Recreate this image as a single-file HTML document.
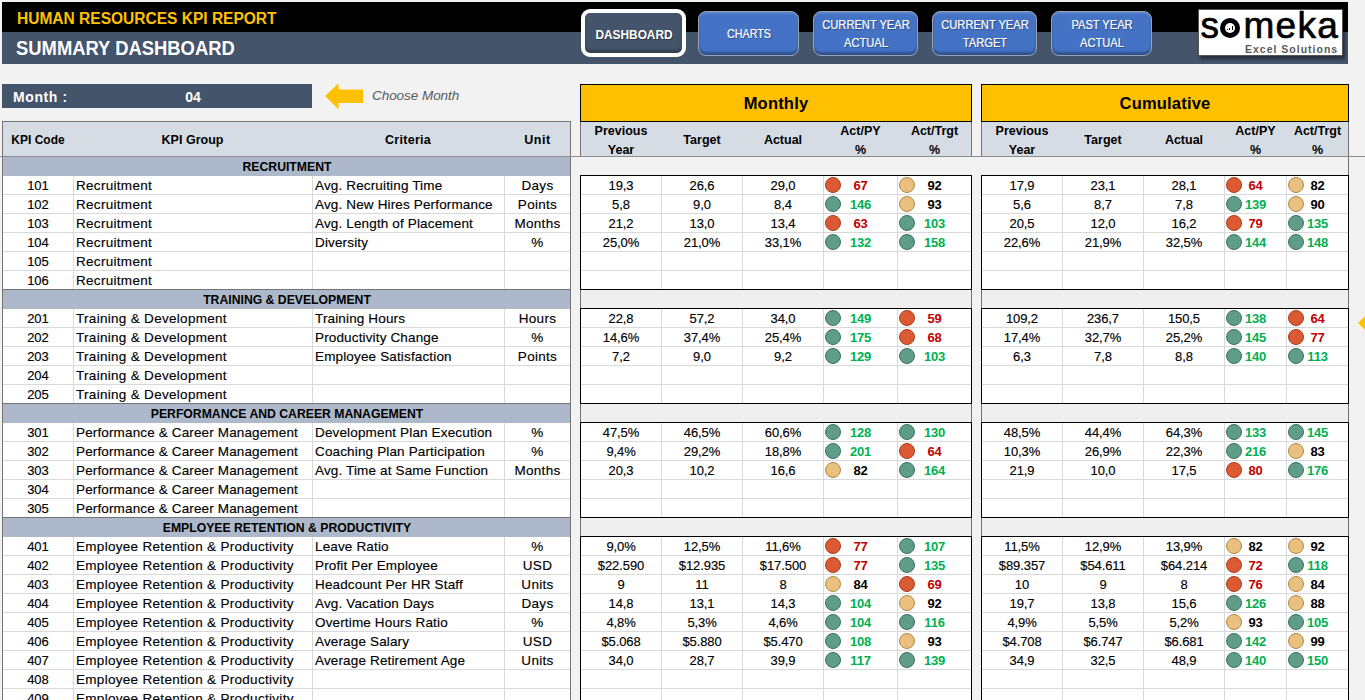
<!DOCTYPE html>
<html><head><meta charset="utf-8"><title>HR KPI Dashboard</title>
<style>
html,body{margin:0;padding:0;}
body{width:1365px;height:700px;overflow:hidden;background:#F2F2F2;position:relative;font-family:"Liberation Sans", sans-serif;}
body>div,body>svg{position:absolute;box-sizing:content-box;}
.t{white-space:nowrap;}
.b{-webkit-text-stroke:0.15px currentColor;}
</style></head><body>
<div style="left:2px;top:2px;width:1346px;height:30px;background:#000;"></div>
<div style="left:2px;top:32px;width:1346px;height:32px;background:#44546A;"></div>
<div class="t " style="left:17px;top:11px;font-size:16px;line-height:16px;font-weight:700;font-style:normal;color:#FFC000;transform-origin:left;transform:scaleX(0.97);">HUMAN RESOURCES KPI REPORT</div>
<div class="t " style="left:16px;top:38px;font-size:20px;line-height:20px;font-weight:700;font-style:normal;color:#fff;transform-origin:left;transform:scaleX(0.92);">SUMMARY DASHBOARD</div>
<div style="left:581px;top:9px;width:97px;height:40px;border:4px solid #fff;border-radius:9px;background:#44546A;box-shadow:inset 0 -3px 3px rgba(0,0,0,0.25)"></div>
<div class="t " style="left:433.5px;top:29px;width:400px;text-align:center;font-size:12.5px;line-height:12.5px;font-weight:700;font-style:normal;color:#fff;transform:scaleX(0.95);text-shadow:1px 1px 1px rgba(0,0,0,0.35)">DASHBOARD</div>
<div style="left:698px;top:11px;width:99px;height:43px;border:1px solid #9AA3B5;border-radius:8px;background:#4472C4;box-shadow:inset 0 -3px 2px rgba(0,0,0,0.28), inset 0 2px 1px rgba(255,255,255,0.12)"></div>
<div class="t " style="left:548.5px;top:28px;width:400px;text-align:center;font-size:12.5px;line-height:12.5px;font-weight:400;font-style:normal;color:#fff;transform:scaleX(0.86);text-shadow:1px 1px 1px rgba(0,0,0,0.35);-webkit-text-stroke:0.2px #fff">CHARTS</div>
<div style="left:813px;top:11px;width:103px;height:43px;border:1px solid #9AA3B5;border-radius:8px;background:#4472C4;box-shadow:inset 0 -3px 2px rgba(0,0,0,0.28), inset 0 2px 1px rgba(255,255,255,0.12)"></div>
<div class="t " style="left:665.5px;top:19px;width:400px;text-align:center;font-size:12.5px;line-height:12.5px;font-weight:400;font-style:normal;color:#fff;transform:scaleX(0.89);text-shadow:1px 1px 1px rgba(0,0,0,0.35);-webkit-text-stroke:0.2px #fff">CURRENT YEAR</div>
<div class="t " style="left:665.5px;top:37px;width:400px;text-align:center;font-size:12.5px;line-height:12.5px;font-weight:400;font-style:normal;color:#fff;transform:scaleX(0.89);text-shadow:1px 1px 1px rgba(0,0,0,0.35);-webkit-text-stroke:0.2px #fff">ACTUAL</div>
<div style="left:932px;top:11px;width:103px;height:43px;border:1px solid #9AA3B5;border-radius:8px;background:#4472C4;box-shadow:inset 0 -3px 2px rgba(0,0,0,0.28), inset 0 2px 1px rgba(255,255,255,0.12)"></div>
<div class="t " style="left:784.5px;top:19px;width:400px;text-align:center;font-size:12.5px;line-height:12.5px;font-weight:400;font-style:normal;color:#fff;transform:scaleX(0.89);text-shadow:1px 1px 1px rgba(0,0,0,0.35);-webkit-text-stroke:0.2px #fff">CURRENT YEAR</div>
<div class="t " style="left:784.5px;top:37px;width:400px;text-align:center;font-size:12.5px;line-height:12.5px;font-weight:400;font-style:normal;color:#fff;transform:scaleX(0.89);text-shadow:1px 1px 1px rgba(0,0,0,0.35);-webkit-text-stroke:0.2px #fff">TARGET</div>
<div style="left:1051px;top:11px;width:99px;height:43px;border:1px solid #9AA3B5;border-radius:8px;background:#4472C4;box-shadow:inset 0 -3px 2px rgba(0,0,0,0.28), inset 0 2px 1px rgba(255,255,255,0.12)"></div>
<div class="t " style="left:901.5px;top:19px;width:400px;text-align:center;font-size:12.5px;line-height:12.5px;font-weight:400;font-style:normal;color:#fff;transform:scaleX(0.89);text-shadow:1px 1px 1px rgba(0,0,0,0.35);-webkit-text-stroke:0.2px #fff">PAST YEAR</div>
<div class="t " style="left:901.5px;top:37px;width:400px;text-align:center;font-size:12.5px;line-height:12.5px;font-weight:400;font-style:normal;color:#fff;transform:scaleX(0.89);text-shadow:1px 1px 1px rgba(0,0,0,0.35);-webkit-text-stroke:0.2px #fff">ACTUAL</div>
<div style="left:1198px;top:9px;width:143px;height:45px;background:#fff;border:1px solid #555;box-shadow:2px 3px 3px rgba(0,0,0,0.45)"></div>
<div class="t " style="left:1200.5px;top:7px;font-size:37px;line-height:37px;font-weight:400;font-style:normal;color:#000;transform-origin:left;-webkit-text-stroke:0.7px #000">s</div>
<div class="t " style="left:1243.5px;top:7px;font-size:37px;line-height:37px;font-weight:400;font-style:normal;color:#000;transform-origin:left;letter-spacing:1.3px;-webkit-text-stroke:0.7px #000">meka</div>
<div style="left:1220px;top:18.3px;width:19.8px;height:19.8px;border-radius:50%;background:#000"></div>
<div style="left:1225px;top:23.2px;width:10.2px;height:10.2px;border-radius:50%;background:#fff"></div>
<div style="left:1227px;top:28.8px;width:1.1px;height:1.6px;background:#000"></div>
<div style="left:1229.2px;top:27.8px;width:1.3px;height:2.6px;background:#000"></div>
<div style="left:1231.7px;top:26px;width:1.4px;height:4.4px;background:#000"></div>
<div class="t " style="left:1245px;top:44px;font-size:10.5px;line-height:10.5px;font-weight:700;font-style:normal;color:#595959;transform-origin:left;letter-spacing:1.0px;">Excel Solutions</div>
<div style="left:2px;top:84px;width:310px;height:24px;background:#44546A;"></div>
<div class="t " style="left:13px;top:90px;font-size:14px;line-height:14px;font-weight:700;font-style:normal;color:#fff;transform-origin:left;letter-spacing:0.6px;">Month :</div>
<div class="t " style="left:-7.0px;top:90px;width:400px;text-align:center;font-size:14px;line-height:14px;font-weight:700;font-style:normal;color:#fff;">04</div>
<svg style="left:325px;top:83px" width="40" height="28" viewBox="0 0 40 28"><path d="M0 13 L13.6 0.3 L13.6 6.4 L38 6.4 L38 20 L13.6 20 L13.6 26.5 Z" fill="#FFC000"/></svg>
<div class="t " style="left:372px;top:88.5px;font-size:13.5px;line-height:13.5px;font-weight:400;font-style:italic;color:#595959;transform-origin:left;letter-spacing:-0.05px;">Choose Month</div>
<div style="left:2px;top:121px;width:569px;height:35px;background:#D6DCE4;"></div>
<div class="t " style="left:-162.5px;top:134px;width:400px;text-align:center;font-size:12.5px;line-height:12.5px;font-weight:700;font-style:normal;color:#000;transform:scaleX(0.96);">KPI Code</div>
<div class="t " style="left:-7.5px;top:134px;width:400px;text-align:center;font-size:12.5px;line-height:12.5px;font-weight:700;font-style:normal;color:#000;">KPI Group</div>
<div class="t " style="left:208.0px;top:134px;width:400px;text-align:center;font-size:12.5px;line-height:12.5px;font-weight:700;font-style:normal;color:#000;letter-spacing:0.3px;">Criteria</div>
<div class="t " style="left:337.5px;top:134px;width:400px;text-align:center;font-size:12.5px;line-height:12.5px;font-weight:700;font-style:normal;color:#000;letter-spacing:0.6px;">Unit</div>
<div style="left:2px;top:157px;width:569px;height:19px;background:#ADB9CA;"></div>
<div class="t " style="left:86.5px;top:160px;width:400px;text-align:center;font-size:13px;line-height:13px;font-weight:700;font-style:normal;color:#000;transform:scaleX(0.94);">RECRUITMENT</div>
<div style="left:1348px;top:157px;width:1px;height:18px;background:#737373;"></div>
<div style="left:2px;top:176px;width:569px;height:18px;background:#fff;"></div>
<div class="t b" style="left:-162.0px;top:179px;width:400px;text-align:center;font-size:13px;line-height:13px;font-weight:400;font-style:normal;color:#000;">101</div>
<div class="t b" style="left:76px;top:179px;font-size:13.5px;line-height:13.5px;font-weight:400;font-style:normal;color:#000;transform-origin:left;letter-spacing:0.3px;">Recruitment</div>
<div class="t b" style="left:315px;top:179px;font-size:13.5px;line-height:13.5px;font-weight:400;font-style:normal;color:#000;transform-origin:left;letter-spacing:0.15px;">Avg. Recruiting Time</div>
<div class="t b" style="left:337.5px;top:179px;width:400px;text-align:center;font-size:13.5px;line-height:13.5px;font-weight:400;font-style:normal;color:#000;letter-spacing:0.3px;">Days</div>
<div style="left:580px;top:176px;width:391px;height:18px;background:#fff;"></div>
<div class="t b" style="left:421.0px;top:179px;width:400px;text-align:center;font-size:13px;line-height:13px;font-weight:400;font-style:normal;color:#000;letter-spacing:-0.1px;">19,3</div>
<div class="t b" style="left:502.0px;top:179px;width:400px;text-align:center;font-size:13px;line-height:13px;font-weight:400;font-style:normal;color:#000;letter-spacing:-0.1px;">26,6</div>
<div class="t b" style="left:583.0px;top:179px;width:400px;text-align:center;font-size:13px;line-height:13px;font-weight:400;font-style:normal;color:#000;letter-spacing:-0.1px;">29,0</div>
<div style="left:825px;top:177px;width:14px;height:14px;border-radius:50%;background:#DC5A33;border:1px solid #A83C1A"></div>
<div class="t " style="left:660.5px;top:179px;width:400px;text-align:center;font-size:13px;line-height:13px;font-weight:700;font-style:normal;color:#C00000;letter-spacing:-0.2px;">67</div>
<div style="left:899px;top:177px;width:14px;height:14px;border-radius:50%;background:#E9C07E;border:1px solid #B08A48"></div>
<div class="t " style="left:734.5px;top:179px;width:400px;text-align:center;font-size:13px;line-height:13px;font-weight:700;font-style:normal;color:#000;letter-spacing:-0.2px;">92</div>
<div style="left:981px;top:176px;width:367px;height:18px;background:#fff;"></div>
<div class="t b" style="left:822.0px;top:179px;width:400px;text-align:center;font-size:13px;line-height:13px;font-weight:400;font-style:normal;color:#000;letter-spacing:-0.1px;">17,9</div>
<div class="t b" style="left:903.0px;top:179px;width:400px;text-align:center;font-size:13px;line-height:13px;font-weight:400;font-style:normal;color:#000;letter-spacing:-0.1px;">23,1</div>
<div class="t b" style="left:984.0px;top:179px;width:400px;text-align:center;font-size:13px;line-height:13px;font-weight:400;font-style:normal;color:#000;letter-spacing:-0.1px;">28,1</div>
<div style="left:1226px;top:177px;width:14px;height:14px;border-radius:50%;background:#DC5A33;border:1px solid #A83C1A"></div>
<div class="t " style="left:1055.5px;top:179px;width:400px;text-align:center;font-size:13px;line-height:13px;font-weight:700;font-style:normal;color:#C00000;letter-spacing:-0.2px;">64</div>
<div style="left:1288px;top:177px;width:14px;height:14px;border-radius:50%;background:#E9C07E;border:1px solid #B08A48"></div>
<div class="t " style="left:1117.5px;top:179px;width:400px;text-align:center;font-size:13px;line-height:13px;font-weight:700;font-style:normal;color:#000;letter-spacing:-0.2px;">82</div>
<div style="left:2px;top:195px;width:569px;height:18px;background:#fff;"></div>
<div class="t b" style="left:-162.0px;top:198px;width:400px;text-align:center;font-size:13px;line-height:13px;font-weight:400;font-style:normal;color:#000;">102</div>
<div class="t b" style="left:76px;top:198px;font-size:13.5px;line-height:13.5px;font-weight:400;font-style:normal;color:#000;transform-origin:left;letter-spacing:0.3px;">Recruitment</div>
<div class="t b" style="left:315px;top:198px;font-size:13.5px;line-height:13.5px;font-weight:400;font-style:normal;color:#000;transform-origin:left;letter-spacing:0.15px;">Avg. New Hires Performance</div>
<div class="t b" style="left:337.5px;top:198px;width:400px;text-align:center;font-size:13.5px;line-height:13.5px;font-weight:400;font-style:normal;color:#000;letter-spacing:0.3px;">Points</div>
<div style="left:580px;top:195px;width:391px;height:18px;background:#fff;"></div>
<div class="t b" style="left:421.0px;top:198px;width:400px;text-align:center;font-size:13px;line-height:13px;font-weight:400;font-style:normal;color:#000;letter-spacing:-0.1px;">5,8</div>
<div class="t b" style="left:502.0px;top:198px;width:400px;text-align:center;font-size:13px;line-height:13px;font-weight:400;font-style:normal;color:#000;letter-spacing:-0.1px;">9,0</div>
<div class="t b" style="left:583.0px;top:198px;width:400px;text-align:center;font-size:13px;line-height:13px;font-weight:400;font-style:normal;color:#000;letter-spacing:-0.1px;">8,4</div>
<div style="left:825px;top:196px;width:14px;height:14px;border-radius:50%;background:#5F9D88;border:1px solid #3A715F"></div>
<div class="t " style="left:660.5px;top:198px;width:400px;text-align:center;font-size:13px;line-height:13px;font-weight:700;font-style:normal;color:#00B050;letter-spacing:-0.2px;">146</div>
<div style="left:899px;top:196px;width:14px;height:14px;border-radius:50%;background:#E9C07E;border:1px solid #B08A48"></div>
<div class="t " style="left:734.5px;top:198px;width:400px;text-align:center;font-size:13px;line-height:13px;font-weight:700;font-style:normal;color:#000;letter-spacing:-0.2px;">93</div>
<div style="left:981px;top:195px;width:367px;height:18px;background:#fff;"></div>
<div class="t b" style="left:822.0px;top:198px;width:400px;text-align:center;font-size:13px;line-height:13px;font-weight:400;font-style:normal;color:#000;letter-spacing:-0.1px;">5,6</div>
<div class="t b" style="left:903.0px;top:198px;width:400px;text-align:center;font-size:13px;line-height:13px;font-weight:400;font-style:normal;color:#000;letter-spacing:-0.1px;">8,7</div>
<div class="t b" style="left:984.0px;top:198px;width:400px;text-align:center;font-size:13px;line-height:13px;font-weight:400;font-style:normal;color:#000;letter-spacing:-0.1px;">7,8</div>
<div style="left:1226px;top:196px;width:14px;height:14px;border-radius:50%;background:#5F9D88;border:1px solid #3A715F"></div>
<div class="t " style="left:1055.5px;top:198px;width:400px;text-align:center;font-size:13px;line-height:13px;font-weight:700;font-style:normal;color:#00B050;letter-spacing:-0.2px;">139</div>
<div style="left:1288px;top:196px;width:14px;height:14px;border-radius:50%;background:#E9C07E;border:1px solid #B08A48"></div>
<div class="t " style="left:1117.5px;top:198px;width:400px;text-align:center;font-size:13px;line-height:13px;font-weight:700;font-style:normal;color:#000;letter-spacing:-0.2px;">90</div>
<div style="left:2px;top:214px;width:569px;height:18px;background:#fff;"></div>
<div class="t b" style="left:-162.0px;top:217px;width:400px;text-align:center;font-size:13px;line-height:13px;font-weight:400;font-style:normal;color:#000;">103</div>
<div class="t b" style="left:76px;top:217px;font-size:13.5px;line-height:13.5px;font-weight:400;font-style:normal;color:#000;transform-origin:left;letter-spacing:0.3px;">Recruitment</div>
<div class="t b" style="left:315px;top:217px;font-size:13.5px;line-height:13.5px;font-weight:400;font-style:normal;color:#000;transform-origin:left;letter-spacing:0.15px;">Avg. Length of Placement</div>
<div class="t b" style="left:337.5px;top:217px;width:400px;text-align:center;font-size:13.5px;line-height:13.5px;font-weight:400;font-style:normal;color:#000;letter-spacing:0.3px;">Months</div>
<div style="left:580px;top:214px;width:391px;height:18px;background:#fff;"></div>
<div class="t b" style="left:421.0px;top:217px;width:400px;text-align:center;font-size:13px;line-height:13px;font-weight:400;font-style:normal;color:#000;letter-spacing:-0.1px;">21,2</div>
<div class="t b" style="left:502.0px;top:217px;width:400px;text-align:center;font-size:13px;line-height:13px;font-weight:400;font-style:normal;color:#000;letter-spacing:-0.1px;">13,0</div>
<div class="t b" style="left:583.0px;top:217px;width:400px;text-align:center;font-size:13px;line-height:13px;font-weight:400;font-style:normal;color:#000;letter-spacing:-0.1px;">13,4</div>
<div style="left:825px;top:215px;width:14px;height:14px;border-radius:50%;background:#DC5A33;border:1px solid #A83C1A"></div>
<div class="t " style="left:660.5px;top:217px;width:400px;text-align:center;font-size:13px;line-height:13px;font-weight:700;font-style:normal;color:#C00000;letter-spacing:-0.2px;">63</div>
<div style="left:899px;top:215px;width:14px;height:14px;border-radius:50%;background:#5F9D88;border:1px solid #3A715F"></div>
<div class="t " style="left:734.5px;top:217px;width:400px;text-align:center;font-size:13px;line-height:13px;font-weight:700;font-style:normal;color:#00B050;letter-spacing:-0.2px;">103</div>
<div style="left:981px;top:214px;width:367px;height:18px;background:#fff;"></div>
<div class="t b" style="left:822.0px;top:217px;width:400px;text-align:center;font-size:13px;line-height:13px;font-weight:400;font-style:normal;color:#000;letter-spacing:-0.1px;">20,5</div>
<div class="t b" style="left:903.0px;top:217px;width:400px;text-align:center;font-size:13px;line-height:13px;font-weight:400;font-style:normal;color:#000;letter-spacing:-0.1px;">12,0</div>
<div class="t b" style="left:984.0px;top:217px;width:400px;text-align:center;font-size:13px;line-height:13px;font-weight:400;font-style:normal;color:#000;letter-spacing:-0.1px;">16,2</div>
<div style="left:1226px;top:215px;width:14px;height:14px;border-radius:50%;background:#DC5A33;border:1px solid #A83C1A"></div>
<div class="t " style="left:1055.5px;top:217px;width:400px;text-align:center;font-size:13px;line-height:13px;font-weight:700;font-style:normal;color:#C00000;letter-spacing:-0.2px;">79</div>
<div style="left:1288px;top:215px;width:14px;height:14px;border-radius:50%;background:#5F9D88;border:1px solid #3A715F"></div>
<div class="t " style="left:1117.5px;top:217px;width:400px;text-align:center;font-size:13px;line-height:13px;font-weight:700;font-style:normal;color:#00B050;letter-spacing:-0.2px;">135</div>
<div style="left:2px;top:233px;width:569px;height:18px;background:#fff;"></div>
<div class="t b" style="left:-162.0px;top:236px;width:400px;text-align:center;font-size:13px;line-height:13px;font-weight:400;font-style:normal;color:#000;">104</div>
<div class="t b" style="left:76px;top:236px;font-size:13.5px;line-height:13.5px;font-weight:400;font-style:normal;color:#000;transform-origin:left;letter-spacing:0.3px;">Recruitment</div>
<div class="t b" style="left:315px;top:236px;font-size:13.5px;line-height:13.5px;font-weight:400;font-style:normal;color:#000;transform-origin:left;letter-spacing:0.15px;">Diversity</div>
<div class="t b" style="left:337.5px;top:236px;width:400px;text-align:center;font-size:13.5px;line-height:13.5px;font-weight:400;font-style:normal;color:#000;letter-spacing:0.3px;">%</div>
<div style="left:580px;top:233px;width:391px;height:18px;background:#fff;"></div>
<div class="t b" style="left:421.0px;top:236px;width:400px;text-align:center;font-size:13px;line-height:13px;font-weight:400;font-style:normal;color:#000;letter-spacing:-0.1px;">25,0%</div>
<div class="t b" style="left:502.0px;top:236px;width:400px;text-align:center;font-size:13px;line-height:13px;font-weight:400;font-style:normal;color:#000;letter-spacing:-0.1px;">21,0%</div>
<div class="t b" style="left:583.0px;top:236px;width:400px;text-align:center;font-size:13px;line-height:13px;font-weight:400;font-style:normal;color:#000;letter-spacing:-0.1px;">33,1%</div>
<div style="left:825px;top:234px;width:14px;height:14px;border-radius:50%;background:#5F9D88;border:1px solid #3A715F"></div>
<div class="t " style="left:660.5px;top:236px;width:400px;text-align:center;font-size:13px;line-height:13px;font-weight:700;font-style:normal;color:#00B050;letter-spacing:-0.2px;">132</div>
<div style="left:899px;top:234px;width:14px;height:14px;border-radius:50%;background:#5F9D88;border:1px solid #3A715F"></div>
<div class="t " style="left:734.5px;top:236px;width:400px;text-align:center;font-size:13px;line-height:13px;font-weight:700;font-style:normal;color:#00B050;letter-spacing:-0.2px;">158</div>
<div style="left:981px;top:233px;width:367px;height:18px;background:#fff;"></div>
<div class="t b" style="left:822.0px;top:236px;width:400px;text-align:center;font-size:13px;line-height:13px;font-weight:400;font-style:normal;color:#000;letter-spacing:-0.1px;">22,6%</div>
<div class="t b" style="left:903.0px;top:236px;width:400px;text-align:center;font-size:13px;line-height:13px;font-weight:400;font-style:normal;color:#000;letter-spacing:-0.1px;">21,9%</div>
<div class="t b" style="left:984.0px;top:236px;width:400px;text-align:center;font-size:13px;line-height:13px;font-weight:400;font-style:normal;color:#000;letter-spacing:-0.1px;">32,5%</div>
<div style="left:1226px;top:234px;width:14px;height:14px;border-radius:50%;background:#5F9D88;border:1px solid #3A715F"></div>
<div class="t " style="left:1055.5px;top:236px;width:400px;text-align:center;font-size:13px;line-height:13px;font-weight:700;font-style:normal;color:#00B050;letter-spacing:-0.2px;">144</div>
<div style="left:1288px;top:234px;width:14px;height:14px;border-radius:50%;background:#5F9D88;border:1px solid #3A715F"></div>
<div class="t " style="left:1117.5px;top:236px;width:400px;text-align:center;font-size:13px;line-height:13px;font-weight:700;font-style:normal;color:#00B050;letter-spacing:-0.2px;">148</div>
<div style="left:2px;top:252px;width:569px;height:18px;background:#fff;"></div>
<div class="t b" style="left:-162.0px;top:255px;width:400px;text-align:center;font-size:13px;line-height:13px;font-weight:400;font-style:normal;color:#000;">105</div>
<div class="t b" style="left:76px;top:255px;font-size:13.5px;line-height:13.5px;font-weight:400;font-style:normal;color:#000;transform-origin:left;letter-spacing:0.3px;">Recruitment</div>
<div style="left:580px;top:252px;width:391px;height:18px;background:#fff;"></div>
<div style="left:981px;top:252px;width:367px;height:18px;background:#fff;"></div>
<div style="left:2px;top:271px;width:569px;height:18px;background:#fff;"></div>
<div class="t b" style="left:-162.0px;top:274px;width:400px;text-align:center;font-size:13px;line-height:13px;font-weight:400;font-style:normal;color:#000;">106</div>
<div class="t b" style="left:76px;top:274px;font-size:13.5px;line-height:13.5px;font-weight:400;font-style:normal;color:#000;transform-origin:left;letter-spacing:0.3px;">Recruitment</div>
<div style="left:580px;top:271px;width:391px;height:18px;background:#fff;"></div>
<div style="left:981px;top:271px;width:367px;height:18px;background:#fff;"></div>
<div style="left:2px;top:290px;width:569px;height:19px;background:#ADB9CA;"></div>
<div style="left:2px;top:289px;width:569px;height:1px;background:#737373;"></div>
<div class="t " style="left:86.5px;top:293px;width:400px;text-align:center;font-size:13px;line-height:13px;font-weight:700;font-style:normal;color:#000;transform:scaleX(0.94);">TRAINING &amp; DEVELOPMENT</div>
<div style="left:580px;top:290px;width:392px;height:18px;background:#EFEFEF;"></div>
<div style="left:981px;top:290px;width:368px;height:18px;background:#EFEFEF;"></div>
<div style="left:2px;top:309px;width:569px;height:18px;background:#fff;"></div>
<div class="t b" style="left:-162.0px;top:312px;width:400px;text-align:center;font-size:13px;line-height:13px;font-weight:400;font-style:normal;color:#000;">201</div>
<div class="t b" style="left:76px;top:312px;font-size:13.5px;line-height:13.5px;font-weight:400;font-style:normal;color:#000;transform-origin:left;letter-spacing:0.3px;">Training &amp; Development</div>
<div class="t b" style="left:315px;top:312px;font-size:13.5px;line-height:13.5px;font-weight:400;font-style:normal;color:#000;transform-origin:left;letter-spacing:0.15px;">Training Hours</div>
<div class="t b" style="left:337.5px;top:312px;width:400px;text-align:center;font-size:13.5px;line-height:13.5px;font-weight:400;font-style:normal;color:#000;letter-spacing:0.3px;">Hours</div>
<div style="left:580px;top:309px;width:391px;height:18px;background:#fff;"></div>
<div class="t b" style="left:421.0px;top:312px;width:400px;text-align:center;font-size:13px;line-height:13px;font-weight:400;font-style:normal;color:#000;letter-spacing:-0.1px;">22,8</div>
<div class="t b" style="left:502.0px;top:312px;width:400px;text-align:center;font-size:13px;line-height:13px;font-weight:400;font-style:normal;color:#000;letter-spacing:-0.1px;">57,2</div>
<div class="t b" style="left:583.0px;top:312px;width:400px;text-align:center;font-size:13px;line-height:13px;font-weight:400;font-style:normal;color:#000;letter-spacing:-0.1px;">34,0</div>
<div style="left:825px;top:310px;width:14px;height:14px;border-radius:50%;background:#5F9D88;border:1px solid #3A715F"></div>
<div class="t " style="left:660.5px;top:312px;width:400px;text-align:center;font-size:13px;line-height:13px;font-weight:700;font-style:normal;color:#00B050;letter-spacing:-0.2px;">149</div>
<div style="left:899px;top:310px;width:14px;height:14px;border-radius:50%;background:#DC5A33;border:1px solid #A83C1A"></div>
<div class="t " style="left:734.5px;top:312px;width:400px;text-align:center;font-size:13px;line-height:13px;font-weight:700;font-style:normal;color:#C00000;letter-spacing:-0.2px;">59</div>
<div style="left:981px;top:309px;width:367px;height:18px;background:#fff;"></div>
<div class="t b" style="left:822.0px;top:312px;width:400px;text-align:center;font-size:13px;line-height:13px;font-weight:400;font-style:normal;color:#000;letter-spacing:-0.1px;">109,2</div>
<div class="t b" style="left:903.0px;top:312px;width:400px;text-align:center;font-size:13px;line-height:13px;font-weight:400;font-style:normal;color:#000;letter-spacing:-0.1px;">236,7</div>
<div class="t b" style="left:984.0px;top:312px;width:400px;text-align:center;font-size:13px;line-height:13px;font-weight:400;font-style:normal;color:#000;letter-spacing:-0.1px;">150,5</div>
<div style="left:1226px;top:310px;width:14px;height:14px;border-radius:50%;background:#5F9D88;border:1px solid #3A715F"></div>
<div class="t " style="left:1055.5px;top:312px;width:400px;text-align:center;font-size:13px;line-height:13px;font-weight:700;font-style:normal;color:#00B050;letter-spacing:-0.2px;">138</div>
<div style="left:1288px;top:310px;width:14px;height:14px;border-radius:50%;background:#DC5A33;border:1px solid #A83C1A"></div>
<div class="t " style="left:1117.5px;top:312px;width:400px;text-align:center;font-size:13px;line-height:13px;font-weight:700;font-style:normal;color:#C00000;letter-spacing:-0.2px;">64</div>
<div style="left:2px;top:328px;width:569px;height:18px;background:#fff;"></div>
<div class="t b" style="left:-162.0px;top:331px;width:400px;text-align:center;font-size:13px;line-height:13px;font-weight:400;font-style:normal;color:#000;">202</div>
<div class="t b" style="left:76px;top:331px;font-size:13.5px;line-height:13.5px;font-weight:400;font-style:normal;color:#000;transform-origin:left;letter-spacing:0.3px;">Training &amp; Development</div>
<div class="t b" style="left:315px;top:331px;font-size:13.5px;line-height:13.5px;font-weight:400;font-style:normal;color:#000;transform-origin:left;letter-spacing:0.15px;">Productivity Change</div>
<div class="t b" style="left:337.5px;top:331px;width:400px;text-align:center;font-size:13.5px;line-height:13.5px;font-weight:400;font-style:normal;color:#000;letter-spacing:0.3px;">%</div>
<div style="left:580px;top:328px;width:391px;height:18px;background:#fff;"></div>
<div class="t b" style="left:421.0px;top:331px;width:400px;text-align:center;font-size:13px;line-height:13px;font-weight:400;font-style:normal;color:#000;letter-spacing:-0.1px;">14,6%</div>
<div class="t b" style="left:502.0px;top:331px;width:400px;text-align:center;font-size:13px;line-height:13px;font-weight:400;font-style:normal;color:#000;letter-spacing:-0.1px;">37,4%</div>
<div class="t b" style="left:583.0px;top:331px;width:400px;text-align:center;font-size:13px;line-height:13px;font-weight:400;font-style:normal;color:#000;letter-spacing:-0.1px;">25,4%</div>
<div style="left:825px;top:329px;width:14px;height:14px;border-radius:50%;background:#5F9D88;border:1px solid #3A715F"></div>
<div class="t " style="left:660.5px;top:331px;width:400px;text-align:center;font-size:13px;line-height:13px;font-weight:700;font-style:normal;color:#00B050;letter-spacing:-0.2px;">175</div>
<div style="left:899px;top:329px;width:14px;height:14px;border-radius:50%;background:#DC5A33;border:1px solid #A83C1A"></div>
<div class="t " style="left:734.5px;top:331px;width:400px;text-align:center;font-size:13px;line-height:13px;font-weight:700;font-style:normal;color:#C00000;letter-spacing:-0.2px;">68</div>
<div style="left:981px;top:328px;width:367px;height:18px;background:#fff;"></div>
<div class="t b" style="left:822.0px;top:331px;width:400px;text-align:center;font-size:13px;line-height:13px;font-weight:400;font-style:normal;color:#000;letter-spacing:-0.1px;">17,4%</div>
<div class="t b" style="left:903.0px;top:331px;width:400px;text-align:center;font-size:13px;line-height:13px;font-weight:400;font-style:normal;color:#000;letter-spacing:-0.1px;">32,7%</div>
<div class="t b" style="left:984.0px;top:331px;width:400px;text-align:center;font-size:13px;line-height:13px;font-weight:400;font-style:normal;color:#000;letter-spacing:-0.1px;">25,2%</div>
<div style="left:1226px;top:329px;width:14px;height:14px;border-radius:50%;background:#5F9D88;border:1px solid #3A715F"></div>
<div class="t " style="left:1055.5px;top:331px;width:400px;text-align:center;font-size:13px;line-height:13px;font-weight:700;font-style:normal;color:#00B050;letter-spacing:-0.2px;">145</div>
<div style="left:1288px;top:329px;width:14px;height:14px;border-radius:50%;background:#DC5A33;border:1px solid #A83C1A"></div>
<div class="t " style="left:1117.5px;top:331px;width:400px;text-align:center;font-size:13px;line-height:13px;font-weight:700;font-style:normal;color:#C00000;letter-spacing:-0.2px;">77</div>
<div style="left:2px;top:347px;width:569px;height:18px;background:#fff;"></div>
<div class="t b" style="left:-162.0px;top:350px;width:400px;text-align:center;font-size:13px;line-height:13px;font-weight:400;font-style:normal;color:#000;">203</div>
<div class="t b" style="left:76px;top:350px;font-size:13.5px;line-height:13.5px;font-weight:400;font-style:normal;color:#000;transform-origin:left;letter-spacing:0.3px;">Training &amp; Development</div>
<div class="t b" style="left:315px;top:350px;font-size:13.5px;line-height:13.5px;font-weight:400;font-style:normal;color:#000;transform-origin:left;letter-spacing:0.15px;">Employee Satisfaction</div>
<div class="t b" style="left:337.5px;top:350px;width:400px;text-align:center;font-size:13.5px;line-height:13.5px;font-weight:400;font-style:normal;color:#000;letter-spacing:0.3px;">Points</div>
<div style="left:580px;top:347px;width:391px;height:18px;background:#fff;"></div>
<div class="t b" style="left:421.0px;top:350px;width:400px;text-align:center;font-size:13px;line-height:13px;font-weight:400;font-style:normal;color:#000;letter-spacing:-0.1px;">7,2</div>
<div class="t b" style="left:502.0px;top:350px;width:400px;text-align:center;font-size:13px;line-height:13px;font-weight:400;font-style:normal;color:#000;letter-spacing:-0.1px;">9,0</div>
<div class="t b" style="left:583.0px;top:350px;width:400px;text-align:center;font-size:13px;line-height:13px;font-weight:400;font-style:normal;color:#000;letter-spacing:-0.1px;">9,2</div>
<div style="left:825px;top:348px;width:14px;height:14px;border-radius:50%;background:#5F9D88;border:1px solid #3A715F"></div>
<div class="t " style="left:660.5px;top:350px;width:400px;text-align:center;font-size:13px;line-height:13px;font-weight:700;font-style:normal;color:#00B050;letter-spacing:-0.2px;">129</div>
<div style="left:899px;top:348px;width:14px;height:14px;border-radius:50%;background:#5F9D88;border:1px solid #3A715F"></div>
<div class="t " style="left:734.5px;top:350px;width:400px;text-align:center;font-size:13px;line-height:13px;font-weight:700;font-style:normal;color:#00B050;letter-spacing:-0.2px;">103</div>
<div style="left:981px;top:347px;width:367px;height:18px;background:#fff;"></div>
<div class="t b" style="left:822.0px;top:350px;width:400px;text-align:center;font-size:13px;line-height:13px;font-weight:400;font-style:normal;color:#000;letter-spacing:-0.1px;">6,3</div>
<div class="t b" style="left:903.0px;top:350px;width:400px;text-align:center;font-size:13px;line-height:13px;font-weight:400;font-style:normal;color:#000;letter-spacing:-0.1px;">7,8</div>
<div class="t b" style="left:984.0px;top:350px;width:400px;text-align:center;font-size:13px;line-height:13px;font-weight:400;font-style:normal;color:#000;letter-spacing:-0.1px;">8,8</div>
<div style="left:1226px;top:348px;width:14px;height:14px;border-radius:50%;background:#5F9D88;border:1px solid #3A715F"></div>
<div class="t " style="left:1055.5px;top:350px;width:400px;text-align:center;font-size:13px;line-height:13px;font-weight:700;font-style:normal;color:#00B050;letter-spacing:-0.2px;">140</div>
<div style="left:1288px;top:348px;width:14px;height:14px;border-radius:50%;background:#5F9D88;border:1px solid #3A715F"></div>
<div class="t " style="left:1117.5px;top:350px;width:400px;text-align:center;font-size:13px;line-height:13px;font-weight:700;font-style:normal;color:#00B050;letter-spacing:-0.2px;">113</div>
<div style="left:2px;top:366px;width:569px;height:18px;background:#fff;"></div>
<div class="t b" style="left:-162.0px;top:369px;width:400px;text-align:center;font-size:13px;line-height:13px;font-weight:400;font-style:normal;color:#000;">204</div>
<div class="t b" style="left:76px;top:369px;font-size:13.5px;line-height:13.5px;font-weight:400;font-style:normal;color:#000;transform-origin:left;letter-spacing:0.3px;">Training &amp; Development</div>
<div style="left:580px;top:366px;width:391px;height:18px;background:#fff;"></div>
<div style="left:981px;top:366px;width:367px;height:18px;background:#fff;"></div>
<div style="left:2px;top:385px;width:569px;height:18px;background:#fff;"></div>
<div class="t b" style="left:-162.0px;top:388px;width:400px;text-align:center;font-size:13px;line-height:13px;font-weight:400;font-style:normal;color:#000;">205</div>
<div class="t b" style="left:76px;top:388px;font-size:13.5px;line-height:13.5px;font-weight:400;font-style:normal;color:#000;transform-origin:left;letter-spacing:0.3px;">Training &amp; Development</div>
<div style="left:580px;top:385px;width:391px;height:18px;background:#fff;"></div>
<div style="left:981px;top:385px;width:367px;height:18px;background:#fff;"></div>
<div style="left:2px;top:404px;width:569px;height:19px;background:#ADB9CA;"></div>
<div style="left:2px;top:403px;width:569px;height:1px;background:#737373;"></div>
<div class="t " style="left:86.5px;top:407px;width:400px;text-align:center;font-size:13px;line-height:13px;font-weight:700;font-style:normal;color:#000;transform:scaleX(0.94);">PERFORMANCE AND CAREER MANAGEMENT</div>
<div style="left:580px;top:404px;width:392px;height:18px;background:#EFEFEF;"></div>
<div style="left:981px;top:404px;width:368px;height:18px;background:#EFEFEF;"></div>
<div style="left:2px;top:423px;width:569px;height:18px;background:#fff;"></div>
<div class="t b" style="left:-162.0px;top:426px;width:400px;text-align:center;font-size:13px;line-height:13px;font-weight:400;font-style:normal;color:#000;">301</div>
<div class="t b" style="left:76px;top:426px;font-size:13.5px;line-height:13.5px;font-weight:400;font-style:normal;color:#000;transform-origin:left;letter-spacing:0.14px;">Performance &amp; Career Management</div>
<div class="t b" style="left:315px;top:426px;font-size:13.5px;line-height:13.5px;font-weight:400;font-style:normal;color:#000;transform-origin:left;letter-spacing:0.15px;">Development Plan Execution</div>
<div class="t b" style="left:337.5px;top:426px;width:400px;text-align:center;font-size:13.5px;line-height:13.5px;font-weight:400;font-style:normal;color:#000;letter-spacing:0.3px;">%</div>
<div style="left:580px;top:423px;width:391px;height:18px;background:#fff;"></div>
<div class="t b" style="left:421.0px;top:426px;width:400px;text-align:center;font-size:13px;line-height:13px;font-weight:400;font-style:normal;color:#000;letter-spacing:-0.1px;">47,5%</div>
<div class="t b" style="left:502.0px;top:426px;width:400px;text-align:center;font-size:13px;line-height:13px;font-weight:400;font-style:normal;color:#000;letter-spacing:-0.1px;">46,5%</div>
<div class="t b" style="left:583.0px;top:426px;width:400px;text-align:center;font-size:13px;line-height:13px;font-weight:400;font-style:normal;color:#000;letter-spacing:-0.1px;">60,6%</div>
<div style="left:825px;top:424px;width:14px;height:14px;border-radius:50%;background:#5F9D88;border:1px solid #3A715F"></div>
<div class="t " style="left:660.5px;top:426px;width:400px;text-align:center;font-size:13px;line-height:13px;font-weight:700;font-style:normal;color:#00B050;letter-spacing:-0.2px;">128</div>
<div style="left:899px;top:424px;width:14px;height:14px;border-radius:50%;background:#5F9D88;border:1px solid #3A715F"></div>
<div class="t " style="left:734.5px;top:426px;width:400px;text-align:center;font-size:13px;line-height:13px;font-weight:700;font-style:normal;color:#00B050;letter-spacing:-0.2px;">130</div>
<div style="left:981px;top:423px;width:367px;height:18px;background:#fff;"></div>
<div class="t b" style="left:822.0px;top:426px;width:400px;text-align:center;font-size:13px;line-height:13px;font-weight:400;font-style:normal;color:#000;letter-spacing:-0.1px;">48,5%</div>
<div class="t b" style="left:903.0px;top:426px;width:400px;text-align:center;font-size:13px;line-height:13px;font-weight:400;font-style:normal;color:#000;letter-spacing:-0.1px;">44,4%</div>
<div class="t b" style="left:984.0px;top:426px;width:400px;text-align:center;font-size:13px;line-height:13px;font-weight:400;font-style:normal;color:#000;letter-spacing:-0.1px;">64,3%</div>
<div style="left:1226px;top:424px;width:14px;height:14px;border-radius:50%;background:#5F9D88;border:1px solid #3A715F"></div>
<div class="t " style="left:1055.5px;top:426px;width:400px;text-align:center;font-size:13px;line-height:13px;font-weight:700;font-style:normal;color:#00B050;letter-spacing:-0.2px;">133</div>
<div style="left:1288px;top:424px;width:14px;height:14px;border-radius:50%;background:#5F9D88;border:1px solid #3A715F"></div>
<div class="t " style="left:1117.5px;top:426px;width:400px;text-align:center;font-size:13px;line-height:13px;font-weight:700;font-style:normal;color:#00B050;letter-spacing:-0.2px;">145</div>
<div style="left:2px;top:442px;width:569px;height:18px;background:#fff;"></div>
<div class="t b" style="left:-162.0px;top:445px;width:400px;text-align:center;font-size:13px;line-height:13px;font-weight:400;font-style:normal;color:#000;">302</div>
<div class="t b" style="left:76px;top:445px;font-size:13.5px;line-height:13.5px;font-weight:400;font-style:normal;color:#000;transform-origin:left;letter-spacing:0.14px;">Performance &amp; Career Management</div>
<div class="t b" style="left:315px;top:445px;font-size:13.5px;line-height:13.5px;font-weight:400;font-style:normal;color:#000;transform-origin:left;letter-spacing:0.15px;">Coaching Plan Participation</div>
<div class="t b" style="left:337.5px;top:445px;width:400px;text-align:center;font-size:13.5px;line-height:13.5px;font-weight:400;font-style:normal;color:#000;letter-spacing:0.3px;">%</div>
<div style="left:580px;top:442px;width:391px;height:18px;background:#fff;"></div>
<div class="t b" style="left:421.0px;top:445px;width:400px;text-align:center;font-size:13px;line-height:13px;font-weight:400;font-style:normal;color:#000;letter-spacing:-0.1px;">9,4%</div>
<div class="t b" style="left:502.0px;top:445px;width:400px;text-align:center;font-size:13px;line-height:13px;font-weight:400;font-style:normal;color:#000;letter-spacing:-0.1px;">29,2%</div>
<div class="t b" style="left:583.0px;top:445px;width:400px;text-align:center;font-size:13px;line-height:13px;font-weight:400;font-style:normal;color:#000;letter-spacing:-0.1px;">18,8%</div>
<div style="left:825px;top:443px;width:14px;height:14px;border-radius:50%;background:#5F9D88;border:1px solid #3A715F"></div>
<div class="t " style="left:660.5px;top:445px;width:400px;text-align:center;font-size:13px;line-height:13px;font-weight:700;font-style:normal;color:#00B050;letter-spacing:-0.2px;">201</div>
<div style="left:899px;top:443px;width:14px;height:14px;border-radius:50%;background:#DC5A33;border:1px solid #A83C1A"></div>
<div class="t " style="left:734.5px;top:445px;width:400px;text-align:center;font-size:13px;line-height:13px;font-weight:700;font-style:normal;color:#C00000;letter-spacing:-0.2px;">64</div>
<div style="left:981px;top:442px;width:367px;height:18px;background:#fff;"></div>
<div class="t b" style="left:822.0px;top:445px;width:400px;text-align:center;font-size:13px;line-height:13px;font-weight:400;font-style:normal;color:#000;letter-spacing:-0.1px;">10,3%</div>
<div class="t b" style="left:903.0px;top:445px;width:400px;text-align:center;font-size:13px;line-height:13px;font-weight:400;font-style:normal;color:#000;letter-spacing:-0.1px;">26,9%</div>
<div class="t b" style="left:984.0px;top:445px;width:400px;text-align:center;font-size:13px;line-height:13px;font-weight:400;font-style:normal;color:#000;letter-spacing:-0.1px;">22,3%</div>
<div style="left:1226px;top:443px;width:14px;height:14px;border-radius:50%;background:#5F9D88;border:1px solid #3A715F"></div>
<div class="t " style="left:1055.5px;top:445px;width:400px;text-align:center;font-size:13px;line-height:13px;font-weight:700;font-style:normal;color:#00B050;letter-spacing:-0.2px;">216</div>
<div style="left:1288px;top:443px;width:14px;height:14px;border-radius:50%;background:#E9C07E;border:1px solid #B08A48"></div>
<div class="t " style="left:1117.5px;top:445px;width:400px;text-align:center;font-size:13px;line-height:13px;font-weight:700;font-style:normal;color:#000;letter-spacing:-0.2px;">83</div>
<div style="left:2px;top:461px;width:569px;height:18px;background:#fff;"></div>
<div class="t b" style="left:-162.0px;top:464px;width:400px;text-align:center;font-size:13px;line-height:13px;font-weight:400;font-style:normal;color:#000;">303</div>
<div class="t b" style="left:76px;top:464px;font-size:13.5px;line-height:13.5px;font-weight:400;font-style:normal;color:#000;transform-origin:left;letter-spacing:0.14px;">Performance &amp; Career Management</div>
<div class="t b" style="left:315px;top:464px;font-size:13.5px;line-height:13.5px;font-weight:400;font-style:normal;color:#000;transform-origin:left;letter-spacing:0.15px;">Avg. Time at Same Function</div>
<div class="t b" style="left:337.5px;top:464px;width:400px;text-align:center;font-size:13.5px;line-height:13.5px;font-weight:400;font-style:normal;color:#000;letter-spacing:0.3px;">Months</div>
<div style="left:580px;top:461px;width:391px;height:18px;background:#fff;"></div>
<div class="t b" style="left:421.0px;top:464px;width:400px;text-align:center;font-size:13px;line-height:13px;font-weight:400;font-style:normal;color:#000;letter-spacing:-0.1px;">20,3</div>
<div class="t b" style="left:502.0px;top:464px;width:400px;text-align:center;font-size:13px;line-height:13px;font-weight:400;font-style:normal;color:#000;letter-spacing:-0.1px;">10,2</div>
<div class="t b" style="left:583.0px;top:464px;width:400px;text-align:center;font-size:13px;line-height:13px;font-weight:400;font-style:normal;color:#000;letter-spacing:-0.1px;">16,6</div>
<div style="left:825px;top:462px;width:14px;height:14px;border-radius:50%;background:#E9C07E;border:1px solid #B08A48"></div>
<div class="t " style="left:660.5px;top:464px;width:400px;text-align:center;font-size:13px;line-height:13px;font-weight:700;font-style:normal;color:#000;letter-spacing:-0.2px;">82</div>
<div style="left:899px;top:462px;width:14px;height:14px;border-radius:50%;background:#5F9D88;border:1px solid #3A715F"></div>
<div class="t " style="left:734.5px;top:464px;width:400px;text-align:center;font-size:13px;line-height:13px;font-weight:700;font-style:normal;color:#00B050;letter-spacing:-0.2px;">164</div>
<div style="left:981px;top:461px;width:367px;height:18px;background:#fff;"></div>
<div class="t b" style="left:822.0px;top:464px;width:400px;text-align:center;font-size:13px;line-height:13px;font-weight:400;font-style:normal;color:#000;letter-spacing:-0.1px;">21,9</div>
<div class="t b" style="left:903.0px;top:464px;width:400px;text-align:center;font-size:13px;line-height:13px;font-weight:400;font-style:normal;color:#000;letter-spacing:-0.1px;">10,0</div>
<div class="t b" style="left:984.0px;top:464px;width:400px;text-align:center;font-size:13px;line-height:13px;font-weight:400;font-style:normal;color:#000;letter-spacing:-0.1px;">17,5</div>
<div style="left:1226px;top:462px;width:14px;height:14px;border-radius:50%;background:#DC5A33;border:1px solid #A83C1A"></div>
<div class="t " style="left:1055.5px;top:464px;width:400px;text-align:center;font-size:13px;line-height:13px;font-weight:700;font-style:normal;color:#C00000;letter-spacing:-0.2px;">80</div>
<div style="left:1288px;top:462px;width:14px;height:14px;border-radius:50%;background:#5F9D88;border:1px solid #3A715F"></div>
<div class="t " style="left:1117.5px;top:464px;width:400px;text-align:center;font-size:13px;line-height:13px;font-weight:700;font-style:normal;color:#00B050;letter-spacing:-0.2px;">176</div>
<div style="left:2px;top:480px;width:569px;height:18px;background:#fff;"></div>
<div class="t b" style="left:-162.0px;top:483px;width:400px;text-align:center;font-size:13px;line-height:13px;font-weight:400;font-style:normal;color:#000;">304</div>
<div class="t b" style="left:76px;top:483px;font-size:13.5px;line-height:13.5px;font-weight:400;font-style:normal;color:#000;transform-origin:left;letter-spacing:0.14px;">Performance &amp; Career Management</div>
<div style="left:580px;top:480px;width:391px;height:18px;background:#fff;"></div>
<div style="left:981px;top:480px;width:367px;height:18px;background:#fff;"></div>
<div style="left:2px;top:499px;width:569px;height:18px;background:#fff;"></div>
<div class="t b" style="left:-162.0px;top:502px;width:400px;text-align:center;font-size:13px;line-height:13px;font-weight:400;font-style:normal;color:#000;">305</div>
<div class="t b" style="left:76px;top:502px;font-size:13.5px;line-height:13.5px;font-weight:400;font-style:normal;color:#000;transform-origin:left;letter-spacing:0.14px;">Performance &amp; Career Management</div>
<div style="left:580px;top:499px;width:391px;height:18px;background:#fff;"></div>
<div style="left:981px;top:499px;width:367px;height:18px;background:#fff;"></div>
<div style="left:2px;top:518px;width:569px;height:19px;background:#ADB9CA;"></div>
<div style="left:2px;top:517px;width:569px;height:1px;background:#737373;"></div>
<div class="t " style="left:86.5px;top:521px;width:400px;text-align:center;font-size:13px;line-height:13px;font-weight:700;font-style:normal;color:#000;transform:scaleX(0.94);">EMPLOYEE RETENTION &amp; PRODUCTIVITY</div>
<div style="left:580px;top:518px;width:392px;height:18px;background:#EFEFEF;"></div>
<div style="left:981px;top:518px;width:368px;height:18px;background:#EFEFEF;"></div>
<div style="left:2px;top:537px;width:569px;height:18px;background:#fff;"></div>
<div class="t b" style="left:-162.0px;top:540px;width:400px;text-align:center;font-size:13px;line-height:13px;font-weight:400;font-style:normal;color:#000;">401</div>
<div class="t b" style="left:76px;top:540px;font-size:13.5px;line-height:13.5px;font-weight:400;font-style:normal;color:#000;transform-origin:left;letter-spacing:0.3px;">Employee Retention &amp; Productivity</div>
<div class="t b" style="left:315px;top:540px;font-size:13.5px;line-height:13.5px;font-weight:400;font-style:normal;color:#000;transform-origin:left;letter-spacing:0.15px;">Leave Ratio</div>
<div class="t b" style="left:337.5px;top:540px;width:400px;text-align:center;font-size:13.5px;line-height:13.5px;font-weight:400;font-style:normal;color:#000;letter-spacing:0.3px;">%</div>
<div style="left:580px;top:537px;width:391px;height:18px;background:#fff;"></div>
<div class="t b" style="left:421.0px;top:540px;width:400px;text-align:center;font-size:13px;line-height:13px;font-weight:400;font-style:normal;color:#000;letter-spacing:-0.1px;">9,0%</div>
<div class="t b" style="left:502.0px;top:540px;width:400px;text-align:center;font-size:13px;line-height:13px;font-weight:400;font-style:normal;color:#000;letter-spacing:-0.1px;">12,5%</div>
<div class="t b" style="left:583.0px;top:540px;width:400px;text-align:center;font-size:13px;line-height:13px;font-weight:400;font-style:normal;color:#000;letter-spacing:-0.1px;">11,6%</div>
<div style="left:825px;top:538px;width:14px;height:14px;border-radius:50%;background:#DC5A33;border:1px solid #A83C1A"></div>
<div class="t " style="left:660.5px;top:540px;width:400px;text-align:center;font-size:13px;line-height:13px;font-weight:700;font-style:normal;color:#C00000;letter-spacing:-0.2px;">77</div>
<div style="left:899px;top:538px;width:14px;height:14px;border-radius:50%;background:#5F9D88;border:1px solid #3A715F"></div>
<div class="t " style="left:734.5px;top:540px;width:400px;text-align:center;font-size:13px;line-height:13px;font-weight:700;font-style:normal;color:#00B050;letter-spacing:-0.2px;">107</div>
<div style="left:981px;top:537px;width:367px;height:18px;background:#fff;"></div>
<div class="t b" style="left:822.0px;top:540px;width:400px;text-align:center;font-size:13px;line-height:13px;font-weight:400;font-style:normal;color:#000;letter-spacing:-0.1px;">11,5%</div>
<div class="t b" style="left:903.0px;top:540px;width:400px;text-align:center;font-size:13px;line-height:13px;font-weight:400;font-style:normal;color:#000;letter-spacing:-0.1px;">12,9%</div>
<div class="t b" style="left:984.0px;top:540px;width:400px;text-align:center;font-size:13px;line-height:13px;font-weight:400;font-style:normal;color:#000;letter-spacing:-0.1px;">13,9%</div>
<div style="left:1226px;top:538px;width:14px;height:14px;border-radius:50%;background:#E9C07E;border:1px solid #B08A48"></div>
<div class="t " style="left:1055.5px;top:540px;width:400px;text-align:center;font-size:13px;line-height:13px;font-weight:700;font-style:normal;color:#000;letter-spacing:-0.2px;">82</div>
<div style="left:1288px;top:538px;width:14px;height:14px;border-radius:50%;background:#E9C07E;border:1px solid #B08A48"></div>
<div class="t " style="left:1117.5px;top:540px;width:400px;text-align:center;font-size:13px;line-height:13px;font-weight:700;font-style:normal;color:#000;letter-spacing:-0.2px;">92</div>
<div style="left:2px;top:556px;width:569px;height:18px;background:#fff;"></div>
<div class="t b" style="left:-162.0px;top:559px;width:400px;text-align:center;font-size:13px;line-height:13px;font-weight:400;font-style:normal;color:#000;">402</div>
<div class="t b" style="left:76px;top:559px;font-size:13.5px;line-height:13.5px;font-weight:400;font-style:normal;color:#000;transform-origin:left;letter-spacing:0.3px;">Employee Retention &amp; Productivity</div>
<div class="t b" style="left:315px;top:559px;font-size:13.5px;line-height:13.5px;font-weight:400;font-style:normal;color:#000;transform-origin:left;letter-spacing:0.15px;">Profit Per Employee</div>
<div class="t b" style="left:337.5px;top:559px;width:400px;text-align:center;font-size:13.5px;line-height:13.5px;font-weight:400;font-style:normal;color:#000;letter-spacing:0.3px;">USD</div>
<div style="left:580px;top:556px;width:391px;height:18px;background:#fff;"></div>
<div class="t b" style="left:421.0px;top:559px;width:400px;text-align:center;font-size:13px;line-height:13px;font-weight:400;font-style:normal;color:#000;letter-spacing:-0.1px;">$22.590</div>
<div class="t b" style="left:502.0px;top:559px;width:400px;text-align:center;font-size:13px;line-height:13px;font-weight:400;font-style:normal;color:#000;letter-spacing:-0.1px;">$12.935</div>
<div class="t b" style="left:583.0px;top:559px;width:400px;text-align:center;font-size:13px;line-height:13px;font-weight:400;font-style:normal;color:#000;letter-spacing:-0.1px;">$17.500</div>
<div style="left:825px;top:557px;width:14px;height:14px;border-radius:50%;background:#DC5A33;border:1px solid #A83C1A"></div>
<div class="t " style="left:660.5px;top:559px;width:400px;text-align:center;font-size:13px;line-height:13px;font-weight:700;font-style:normal;color:#C00000;letter-spacing:-0.2px;">77</div>
<div style="left:899px;top:557px;width:14px;height:14px;border-radius:50%;background:#5F9D88;border:1px solid #3A715F"></div>
<div class="t " style="left:734.5px;top:559px;width:400px;text-align:center;font-size:13px;line-height:13px;font-weight:700;font-style:normal;color:#00B050;letter-spacing:-0.2px;">135</div>
<div style="left:981px;top:556px;width:367px;height:18px;background:#fff;"></div>
<div class="t b" style="left:822.0px;top:559px;width:400px;text-align:center;font-size:13px;line-height:13px;font-weight:400;font-style:normal;color:#000;letter-spacing:-0.1px;">$89.357</div>
<div class="t b" style="left:903.0px;top:559px;width:400px;text-align:center;font-size:13px;line-height:13px;font-weight:400;font-style:normal;color:#000;letter-spacing:-0.1px;">$54.611</div>
<div class="t b" style="left:984.0px;top:559px;width:400px;text-align:center;font-size:13px;line-height:13px;font-weight:400;font-style:normal;color:#000;letter-spacing:-0.1px;">$64.214</div>
<div style="left:1226px;top:557px;width:14px;height:14px;border-radius:50%;background:#DC5A33;border:1px solid #A83C1A"></div>
<div class="t " style="left:1055.5px;top:559px;width:400px;text-align:center;font-size:13px;line-height:13px;font-weight:700;font-style:normal;color:#C00000;letter-spacing:-0.2px;">72</div>
<div style="left:1288px;top:557px;width:14px;height:14px;border-radius:50%;background:#5F9D88;border:1px solid #3A715F"></div>
<div class="t " style="left:1117.5px;top:559px;width:400px;text-align:center;font-size:13px;line-height:13px;font-weight:700;font-style:normal;color:#00B050;letter-spacing:-0.2px;">118</div>
<div style="left:2px;top:575px;width:569px;height:18px;background:#fff;"></div>
<div class="t b" style="left:-162.0px;top:578px;width:400px;text-align:center;font-size:13px;line-height:13px;font-weight:400;font-style:normal;color:#000;">403</div>
<div class="t b" style="left:76px;top:578px;font-size:13.5px;line-height:13.5px;font-weight:400;font-style:normal;color:#000;transform-origin:left;letter-spacing:0.3px;">Employee Retention &amp; Productivity</div>
<div class="t b" style="left:315px;top:578px;font-size:13.5px;line-height:13.5px;font-weight:400;font-style:normal;color:#000;transform-origin:left;letter-spacing:0.15px;">Headcount Per HR Staff</div>
<div class="t b" style="left:337.5px;top:578px;width:400px;text-align:center;font-size:13.5px;line-height:13.5px;font-weight:400;font-style:normal;color:#000;letter-spacing:0.3px;">Units</div>
<div style="left:580px;top:575px;width:391px;height:18px;background:#fff;"></div>
<div class="t b" style="left:421.0px;top:578px;width:400px;text-align:center;font-size:13px;line-height:13px;font-weight:400;font-style:normal;color:#000;letter-spacing:-0.1px;">9</div>
<div class="t b" style="left:502.0px;top:578px;width:400px;text-align:center;font-size:13px;line-height:13px;font-weight:400;font-style:normal;color:#000;letter-spacing:-0.1px;">11</div>
<div class="t b" style="left:583.0px;top:578px;width:400px;text-align:center;font-size:13px;line-height:13px;font-weight:400;font-style:normal;color:#000;letter-spacing:-0.1px;">8</div>
<div style="left:825px;top:576px;width:14px;height:14px;border-radius:50%;background:#E9C07E;border:1px solid #B08A48"></div>
<div class="t " style="left:660.5px;top:578px;width:400px;text-align:center;font-size:13px;line-height:13px;font-weight:700;font-style:normal;color:#000;letter-spacing:-0.2px;">84</div>
<div style="left:899px;top:576px;width:14px;height:14px;border-radius:50%;background:#DC5A33;border:1px solid #A83C1A"></div>
<div class="t " style="left:734.5px;top:578px;width:400px;text-align:center;font-size:13px;line-height:13px;font-weight:700;font-style:normal;color:#C00000;letter-spacing:-0.2px;">69</div>
<div style="left:981px;top:575px;width:367px;height:18px;background:#fff;"></div>
<div class="t b" style="left:822.0px;top:578px;width:400px;text-align:center;font-size:13px;line-height:13px;font-weight:400;font-style:normal;color:#000;letter-spacing:-0.1px;">10</div>
<div class="t b" style="left:903.0px;top:578px;width:400px;text-align:center;font-size:13px;line-height:13px;font-weight:400;font-style:normal;color:#000;letter-spacing:-0.1px;">9</div>
<div class="t b" style="left:984.0px;top:578px;width:400px;text-align:center;font-size:13px;line-height:13px;font-weight:400;font-style:normal;color:#000;letter-spacing:-0.1px;">8</div>
<div style="left:1226px;top:576px;width:14px;height:14px;border-radius:50%;background:#DC5A33;border:1px solid #A83C1A"></div>
<div class="t " style="left:1055.5px;top:578px;width:400px;text-align:center;font-size:13px;line-height:13px;font-weight:700;font-style:normal;color:#C00000;letter-spacing:-0.2px;">76</div>
<div style="left:1288px;top:576px;width:14px;height:14px;border-radius:50%;background:#E9C07E;border:1px solid #B08A48"></div>
<div class="t " style="left:1117.5px;top:578px;width:400px;text-align:center;font-size:13px;line-height:13px;font-weight:700;font-style:normal;color:#000;letter-spacing:-0.2px;">84</div>
<div style="left:2px;top:594px;width:569px;height:18px;background:#fff;"></div>
<div class="t b" style="left:-162.0px;top:597px;width:400px;text-align:center;font-size:13px;line-height:13px;font-weight:400;font-style:normal;color:#000;">404</div>
<div class="t b" style="left:76px;top:597px;font-size:13.5px;line-height:13.5px;font-weight:400;font-style:normal;color:#000;transform-origin:left;letter-spacing:0.3px;">Employee Retention &amp; Productivity</div>
<div class="t b" style="left:315px;top:597px;font-size:13.5px;line-height:13.5px;font-weight:400;font-style:normal;color:#000;transform-origin:left;letter-spacing:0.15px;">Avg. Vacation Days</div>
<div class="t b" style="left:337.5px;top:597px;width:400px;text-align:center;font-size:13.5px;line-height:13.5px;font-weight:400;font-style:normal;color:#000;letter-spacing:0.3px;">Days</div>
<div style="left:580px;top:594px;width:391px;height:18px;background:#fff;"></div>
<div class="t b" style="left:421.0px;top:597px;width:400px;text-align:center;font-size:13px;line-height:13px;font-weight:400;font-style:normal;color:#000;letter-spacing:-0.1px;">14,8</div>
<div class="t b" style="left:502.0px;top:597px;width:400px;text-align:center;font-size:13px;line-height:13px;font-weight:400;font-style:normal;color:#000;letter-spacing:-0.1px;">13,1</div>
<div class="t b" style="left:583.0px;top:597px;width:400px;text-align:center;font-size:13px;line-height:13px;font-weight:400;font-style:normal;color:#000;letter-spacing:-0.1px;">14,3</div>
<div style="left:825px;top:595px;width:14px;height:14px;border-radius:50%;background:#5F9D88;border:1px solid #3A715F"></div>
<div class="t " style="left:660.5px;top:597px;width:400px;text-align:center;font-size:13px;line-height:13px;font-weight:700;font-style:normal;color:#00B050;letter-spacing:-0.2px;">104</div>
<div style="left:899px;top:595px;width:14px;height:14px;border-radius:50%;background:#E9C07E;border:1px solid #B08A48"></div>
<div class="t " style="left:734.5px;top:597px;width:400px;text-align:center;font-size:13px;line-height:13px;font-weight:700;font-style:normal;color:#000;letter-spacing:-0.2px;">92</div>
<div style="left:981px;top:594px;width:367px;height:18px;background:#fff;"></div>
<div class="t b" style="left:822.0px;top:597px;width:400px;text-align:center;font-size:13px;line-height:13px;font-weight:400;font-style:normal;color:#000;letter-spacing:-0.1px;">19,7</div>
<div class="t b" style="left:903.0px;top:597px;width:400px;text-align:center;font-size:13px;line-height:13px;font-weight:400;font-style:normal;color:#000;letter-spacing:-0.1px;">13,8</div>
<div class="t b" style="left:984.0px;top:597px;width:400px;text-align:center;font-size:13px;line-height:13px;font-weight:400;font-style:normal;color:#000;letter-spacing:-0.1px;">15,6</div>
<div style="left:1226px;top:595px;width:14px;height:14px;border-radius:50%;background:#5F9D88;border:1px solid #3A715F"></div>
<div class="t " style="left:1055.5px;top:597px;width:400px;text-align:center;font-size:13px;line-height:13px;font-weight:700;font-style:normal;color:#00B050;letter-spacing:-0.2px;">126</div>
<div style="left:1288px;top:595px;width:14px;height:14px;border-radius:50%;background:#E9C07E;border:1px solid #B08A48"></div>
<div class="t " style="left:1117.5px;top:597px;width:400px;text-align:center;font-size:13px;line-height:13px;font-weight:700;font-style:normal;color:#000;letter-spacing:-0.2px;">88</div>
<div style="left:2px;top:613px;width:569px;height:18px;background:#fff;"></div>
<div class="t b" style="left:-162.0px;top:616px;width:400px;text-align:center;font-size:13px;line-height:13px;font-weight:400;font-style:normal;color:#000;">405</div>
<div class="t b" style="left:76px;top:616px;font-size:13.5px;line-height:13.5px;font-weight:400;font-style:normal;color:#000;transform-origin:left;letter-spacing:0.3px;">Employee Retention &amp; Productivity</div>
<div class="t b" style="left:315px;top:616px;font-size:13.5px;line-height:13.5px;font-weight:400;font-style:normal;color:#000;transform-origin:left;letter-spacing:0.15px;">Overtime Hours Ratio</div>
<div class="t b" style="left:337.5px;top:616px;width:400px;text-align:center;font-size:13.5px;line-height:13.5px;font-weight:400;font-style:normal;color:#000;letter-spacing:0.3px;">%</div>
<div style="left:580px;top:613px;width:391px;height:18px;background:#fff;"></div>
<div class="t b" style="left:421.0px;top:616px;width:400px;text-align:center;font-size:13px;line-height:13px;font-weight:400;font-style:normal;color:#000;letter-spacing:-0.1px;">4,8%</div>
<div class="t b" style="left:502.0px;top:616px;width:400px;text-align:center;font-size:13px;line-height:13px;font-weight:400;font-style:normal;color:#000;letter-spacing:-0.1px;">5,3%</div>
<div class="t b" style="left:583.0px;top:616px;width:400px;text-align:center;font-size:13px;line-height:13px;font-weight:400;font-style:normal;color:#000;letter-spacing:-0.1px;">4,6%</div>
<div style="left:825px;top:614px;width:14px;height:14px;border-radius:50%;background:#5F9D88;border:1px solid #3A715F"></div>
<div class="t " style="left:660.5px;top:616px;width:400px;text-align:center;font-size:13px;line-height:13px;font-weight:700;font-style:normal;color:#00B050;letter-spacing:-0.2px;">104</div>
<div style="left:899px;top:614px;width:14px;height:14px;border-radius:50%;background:#5F9D88;border:1px solid #3A715F"></div>
<div class="t " style="left:734.5px;top:616px;width:400px;text-align:center;font-size:13px;line-height:13px;font-weight:700;font-style:normal;color:#00B050;letter-spacing:-0.2px;">116</div>
<div style="left:981px;top:613px;width:367px;height:18px;background:#fff;"></div>
<div class="t b" style="left:822.0px;top:616px;width:400px;text-align:center;font-size:13px;line-height:13px;font-weight:400;font-style:normal;color:#000;letter-spacing:-0.1px;">4,9%</div>
<div class="t b" style="left:903.0px;top:616px;width:400px;text-align:center;font-size:13px;line-height:13px;font-weight:400;font-style:normal;color:#000;letter-spacing:-0.1px;">5,5%</div>
<div class="t b" style="left:984.0px;top:616px;width:400px;text-align:center;font-size:13px;line-height:13px;font-weight:400;font-style:normal;color:#000;letter-spacing:-0.1px;">5,2%</div>
<div style="left:1226px;top:614px;width:14px;height:14px;border-radius:50%;background:#E9C07E;border:1px solid #B08A48"></div>
<div class="t " style="left:1055.5px;top:616px;width:400px;text-align:center;font-size:13px;line-height:13px;font-weight:700;font-style:normal;color:#000;letter-spacing:-0.2px;">93</div>
<div style="left:1288px;top:614px;width:14px;height:14px;border-radius:50%;background:#5F9D88;border:1px solid #3A715F"></div>
<div class="t " style="left:1117.5px;top:616px;width:400px;text-align:center;font-size:13px;line-height:13px;font-weight:700;font-style:normal;color:#00B050;letter-spacing:-0.2px;">105</div>
<div style="left:2px;top:632px;width:569px;height:18px;background:#fff;"></div>
<div class="t b" style="left:-162.0px;top:635px;width:400px;text-align:center;font-size:13px;line-height:13px;font-weight:400;font-style:normal;color:#000;">406</div>
<div class="t b" style="left:76px;top:635px;font-size:13.5px;line-height:13.5px;font-weight:400;font-style:normal;color:#000;transform-origin:left;letter-spacing:0.3px;">Employee Retention &amp; Productivity</div>
<div class="t b" style="left:315px;top:635px;font-size:13.5px;line-height:13.5px;font-weight:400;font-style:normal;color:#000;transform-origin:left;letter-spacing:0.15px;">Average Salary</div>
<div class="t b" style="left:337.5px;top:635px;width:400px;text-align:center;font-size:13.5px;line-height:13.5px;font-weight:400;font-style:normal;color:#000;letter-spacing:0.3px;">USD</div>
<div style="left:580px;top:632px;width:391px;height:18px;background:#fff;"></div>
<div class="t b" style="left:421.0px;top:635px;width:400px;text-align:center;font-size:13px;line-height:13px;font-weight:400;font-style:normal;color:#000;letter-spacing:-0.1px;">$5.068</div>
<div class="t b" style="left:502.0px;top:635px;width:400px;text-align:center;font-size:13px;line-height:13px;font-weight:400;font-style:normal;color:#000;letter-spacing:-0.1px;">$5.880</div>
<div class="t b" style="left:583.0px;top:635px;width:400px;text-align:center;font-size:13px;line-height:13px;font-weight:400;font-style:normal;color:#000;letter-spacing:-0.1px;">$5.470</div>
<div style="left:825px;top:633px;width:14px;height:14px;border-radius:50%;background:#5F9D88;border:1px solid #3A715F"></div>
<div class="t " style="left:660.5px;top:635px;width:400px;text-align:center;font-size:13px;line-height:13px;font-weight:700;font-style:normal;color:#00B050;letter-spacing:-0.2px;">108</div>
<div style="left:899px;top:633px;width:14px;height:14px;border-radius:50%;background:#E9C07E;border:1px solid #B08A48"></div>
<div class="t " style="left:734.5px;top:635px;width:400px;text-align:center;font-size:13px;line-height:13px;font-weight:700;font-style:normal;color:#000;letter-spacing:-0.2px;">93</div>
<div style="left:981px;top:632px;width:367px;height:18px;background:#fff;"></div>
<div class="t b" style="left:822.0px;top:635px;width:400px;text-align:center;font-size:13px;line-height:13px;font-weight:400;font-style:normal;color:#000;letter-spacing:-0.1px;">$4.708</div>
<div class="t b" style="left:903.0px;top:635px;width:400px;text-align:center;font-size:13px;line-height:13px;font-weight:400;font-style:normal;color:#000;letter-spacing:-0.1px;">$6.747</div>
<div class="t b" style="left:984.0px;top:635px;width:400px;text-align:center;font-size:13px;line-height:13px;font-weight:400;font-style:normal;color:#000;letter-spacing:-0.1px;">$6.681</div>
<div style="left:1226px;top:633px;width:14px;height:14px;border-radius:50%;background:#5F9D88;border:1px solid #3A715F"></div>
<div class="t " style="left:1055.5px;top:635px;width:400px;text-align:center;font-size:13px;line-height:13px;font-weight:700;font-style:normal;color:#00B050;letter-spacing:-0.2px;">142</div>
<div style="left:1288px;top:633px;width:14px;height:14px;border-radius:50%;background:#E9C07E;border:1px solid #B08A48"></div>
<div class="t " style="left:1117.5px;top:635px;width:400px;text-align:center;font-size:13px;line-height:13px;font-weight:700;font-style:normal;color:#000;letter-spacing:-0.2px;">99</div>
<div style="left:2px;top:651px;width:569px;height:18px;background:#fff;"></div>
<div class="t b" style="left:-162.0px;top:654px;width:400px;text-align:center;font-size:13px;line-height:13px;font-weight:400;font-style:normal;color:#000;">407</div>
<div class="t b" style="left:76px;top:654px;font-size:13.5px;line-height:13.5px;font-weight:400;font-style:normal;color:#000;transform-origin:left;letter-spacing:0.3px;">Employee Retention &amp; Productivity</div>
<div class="t b" style="left:315px;top:654px;font-size:13.5px;line-height:13.5px;font-weight:400;font-style:normal;color:#000;transform-origin:left;letter-spacing:0.15px;">Average Retirement Age</div>
<div class="t b" style="left:337.5px;top:654px;width:400px;text-align:center;font-size:13.5px;line-height:13.5px;font-weight:400;font-style:normal;color:#000;letter-spacing:0.3px;">Units</div>
<div style="left:580px;top:651px;width:391px;height:18px;background:#fff;"></div>
<div class="t b" style="left:421.0px;top:654px;width:400px;text-align:center;font-size:13px;line-height:13px;font-weight:400;font-style:normal;color:#000;letter-spacing:-0.1px;">34,0</div>
<div class="t b" style="left:502.0px;top:654px;width:400px;text-align:center;font-size:13px;line-height:13px;font-weight:400;font-style:normal;color:#000;letter-spacing:-0.1px;">28,7</div>
<div class="t b" style="left:583.0px;top:654px;width:400px;text-align:center;font-size:13px;line-height:13px;font-weight:400;font-style:normal;color:#000;letter-spacing:-0.1px;">39,9</div>
<div style="left:825px;top:652px;width:14px;height:14px;border-radius:50%;background:#5F9D88;border:1px solid #3A715F"></div>
<div class="t " style="left:660.5px;top:654px;width:400px;text-align:center;font-size:13px;line-height:13px;font-weight:700;font-style:normal;color:#00B050;letter-spacing:-0.2px;">117</div>
<div style="left:899px;top:652px;width:14px;height:14px;border-radius:50%;background:#5F9D88;border:1px solid #3A715F"></div>
<div class="t " style="left:734.5px;top:654px;width:400px;text-align:center;font-size:13px;line-height:13px;font-weight:700;font-style:normal;color:#00B050;letter-spacing:-0.2px;">139</div>
<div style="left:981px;top:651px;width:367px;height:18px;background:#fff;"></div>
<div class="t b" style="left:822.0px;top:654px;width:400px;text-align:center;font-size:13px;line-height:13px;font-weight:400;font-style:normal;color:#000;letter-spacing:-0.1px;">34,9</div>
<div class="t b" style="left:903.0px;top:654px;width:400px;text-align:center;font-size:13px;line-height:13px;font-weight:400;font-style:normal;color:#000;letter-spacing:-0.1px;">32,5</div>
<div class="t b" style="left:984.0px;top:654px;width:400px;text-align:center;font-size:13px;line-height:13px;font-weight:400;font-style:normal;color:#000;letter-spacing:-0.1px;">48,9</div>
<div style="left:1226px;top:652px;width:14px;height:14px;border-radius:50%;background:#5F9D88;border:1px solid #3A715F"></div>
<div class="t " style="left:1055.5px;top:654px;width:400px;text-align:center;font-size:13px;line-height:13px;font-weight:700;font-style:normal;color:#00B050;letter-spacing:-0.2px;">140</div>
<div style="left:1288px;top:652px;width:14px;height:14px;border-radius:50%;background:#5F9D88;border:1px solid #3A715F"></div>
<div class="t " style="left:1117.5px;top:654px;width:400px;text-align:center;font-size:13px;line-height:13px;font-weight:700;font-style:normal;color:#00B050;letter-spacing:-0.2px;">150</div>
<div style="left:2px;top:670px;width:569px;height:18px;background:#fff;"></div>
<div class="t b" style="left:-162.0px;top:673px;width:400px;text-align:center;font-size:13px;line-height:13px;font-weight:400;font-style:normal;color:#000;">408</div>
<div class="t b" style="left:76px;top:673px;font-size:13.5px;line-height:13.5px;font-weight:400;font-style:normal;color:#000;transform-origin:left;letter-spacing:0.3px;">Employee Retention &amp; Productivity</div>
<div style="left:580px;top:670px;width:391px;height:18px;background:#fff;"></div>
<div style="left:981px;top:670px;width:367px;height:18px;background:#fff;"></div>
<div style="left:2px;top:689px;width:569px;height:18px;background:#fff;"></div>
<div class="t b" style="left:-162.0px;top:692px;width:400px;text-align:center;font-size:13px;line-height:13px;font-weight:400;font-style:normal;color:#000;">409</div>
<div class="t b" style="left:76px;top:692px;font-size:13.5px;line-height:13.5px;font-weight:400;font-style:normal;color:#000;transform-origin:left;letter-spacing:0.3px;">Employee Retention &amp; Productivity</div>
<div style="left:580px;top:689px;width:391px;height:18px;background:#fff;"></div>
<div style="left:981px;top:689px;width:367px;height:18px;background:#fff;"></div>
<div style="left:73px;top:176px;width:1px;height:18px;background:#D9D9D9;"></div>
<div style="left:73px;top:195px;width:1px;height:18px;background:#D9D9D9;"></div>
<div style="left:73px;top:214px;width:1px;height:18px;background:#D9D9D9;"></div>
<div style="left:73px;top:233px;width:1px;height:18px;background:#D9D9D9;"></div>
<div style="left:73px;top:252px;width:1px;height:18px;background:#D9D9D9;"></div>
<div style="left:73px;top:271px;width:1px;height:18px;background:#D9D9D9;"></div>
<div style="left:73px;top:309px;width:1px;height:18px;background:#D9D9D9;"></div>
<div style="left:73px;top:328px;width:1px;height:18px;background:#D9D9D9;"></div>
<div style="left:73px;top:347px;width:1px;height:18px;background:#D9D9D9;"></div>
<div style="left:73px;top:366px;width:1px;height:18px;background:#D9D9D9;"></div>
<div style="left:73px;top:385px;width:1px;height:18px;background:#D9D9D9;"></div>
<div style="left:73px;top:423px;width:1px;height:18px;background:#D9D9D9;"></div>
<div style="left:73px;top:442px;width:1px;height:18px;background:#D9D9D9;"></div>
<div style="left:73px;top:461px;width:1px;height:18px;background:#D9D9D9;"></div>
<div style="left:73px;top:480px;width:1px;height:18px;background:#D9D9D9;"></div>
<div style="left:73px;top:499px;width:1px;height:18px;background:#D9D9D9;"></div>
<div style="left:73px;top:537px;width:1px;height:18px;background:#D9D9D9;"></div>
<div style="left:73px;top:556px;width:1px;height:18px;background:#D9D9D9;"></div>
<div style="left:73px;top:575px;width:1px;height:18px;background:#D9D9D9;"></div>
<div style="left:73px;top:594px;width:1px;height:18px;background:#D9D9D9;"></div>
<div style="left:73px;top:613px;width:1px;height:18px;background:#D9D9D9;"></div>
<div style="left:73px;top:632px;width:1px;height:18px;background:#D9D9D9;"></div>
<div style="left:73px;top:651px;width:1px;height:18px;background:#D9D9D9;"></div>
<div style="left:73px;top:670px;width:1px;height:18px;background:#D9D9D9;"></div>
<div style="left:73px;top:689px;width:1px;height:18px;background:#D9D9D9;"></div>
<div style="left:312px;top:176px;width:1px;height:18px;background:#D9D9D9;"></div>
<div style="left:312px;top:195px;width:1px;height:18px;background:#D9D9D9;"></div>
<div style="left:312px;top:214px;width:1px;height:18px;background:#D9D9D9;"></div>
<div style="left:312px;top:233px;width:1px;height:18px;background:#D9D9D9;"></div>
<div style="left:312px;top:252px;width:1px;height:18px;background:#D9D9D9;"></div>
<div style="left:312px;top:271px;width:1px;height:18px;background:#D9D9D9;"></div>
<div style="left:312px;top:309px;width:1px;height:18px;background:#D9D9D9;"></div>
<div style="left:312px;top:328px;width:1px;height:18px;background:#D9D9D9;"></div>
<div style="left:312px;top:347px;width:1px;height:18px;background:#D9D9D9;"></div>
<div style="left:312px;top:366px;width:1px;height:18px;background:#D9D9D9;"></div>
<div style="left:312px;top:385px;width:1px;height:18px;background:#D9D9D9;"></div>
<div style="left:312px;top:423px;width:1px;height:18px;background:#D9D9D9;"></div>
<div style="left:312px;top:442px;width:1px;height:18px;background:#D9D9D9;"></div>
<div style="left:312px;top:461px;width:1px;height:18px;background:#D9D9D9;"></div>
<div style="left:312px;top:480px;width:1px;height:18px;background:#D9D9D9;"></div>
<div style="left:312px;top:499px;width:1px;height:18px;background:#D9D9D9;"></div>
<div style="left:312px;top:537px;width:1px;height:18px;background:#D9D9D9;"></div>
<div style="left:312px;top:556px;width:1px;height:18px;background:#D9D9D9;"></div>
<div style="left:312px;top:575px;width:1px;height:18px;background:#D9D9D9;"></div>
<div style="left:312px;top:594px;width:1px;height:18px;background:#D9D9D9;"></div>
<div style="left:312px;top:613px;width:1px;height:18px;background:#D9D9D9;"></div>
<div style="left:312px;top:632px;width:1px;height:18px;background:#D9D9D9;"></div>
<div style="left:312px;top:651px;width:1px;height:18px;background:#D9D9D9;"></div>
<div style="left:312px;top:670px;width:1px;height:18px;background:#D9D9D9;"></div>
<div style="left:312px;top:689px;width:1px;height:18px;background:#D9D9D9;"></div>
<div style="left:504px;top:176px;width:1px;height:18px;background:#D9D9D9;"></div>
<div style="left:504px;top:195px;width:1px;height:18px;background:#D9D9D9;"></div>
<div style="left:504px;top:214px;width:1px;height:18px;background:#D9D9D9;"></div>
<div style="left:504px;top:233px;width:1px;height:18px;background:#D9D9D9;"></div>
<div style="left:504px;top:252px;width:1px;height:18px;background:#D9D9D9;"></div>
<div style="left:504px;top:271px;width:1px;height:18px;background:#D9D9D9;"></div>
<div style="left:504px;top:309px;width:1px;height:18px;background:#D9D9D9;"></div>
<div style="left:504px;top:328px;width:1px;height:18px;background:#D9D9D9;"></div>
<div style="left:504px;top:347px;width:1px;height:18px;background:#D9D9D9;"></div>
<div style="left:504px;top:366px;width:1px;height:18px;background:#D9D9D9;"></div>
<div style="left:504px;top:385px;width:1px;height:18px;background:#D9D9D9;"></div>
<div style="left:504px;top:423px;width:1px;height:18px;background:#D9D9D9;"></div>
<div style="left:504px;top:442px;width:1px;height:18px;background:#D9D9D9;"></div>
<div style="left:504px;top:461px;width:1px;height:18px;background:#D9D9D9;"></div>
<div style="left:504px;top:480px;width:1px;height:18px;background:#D9D9D9;"></div>
<div style="left:504px;top:499px;width:1px;height:18px;background:#D9D9D9;"></div>
<div style="left:504px;top:537px;width:1px;height:18px;background:#D9D9D9;"></div>
<div style="left:504px;top:556px;width:1px;height:18px;background:#D9D9D9;"></div>
<div style="left:504px;top:575px;width:1px;height:18px;background:#D9D9D9;"></div>
<div style="left:504px;top:594px;width:1px;height:18px;background:#D9D9D9;"></div>
<div style="left:504px;top:613px;width:1px;height:18px;background:#D9D9D9;"></div>
<div style="left:504px;top:632px;width:1px;height:18px;background:#D9D9D9;"></div>
<div style="left:504px;top:651px;width:1px;height:18px;background:#D9D9D9;"></div>
<div style="left:504px;top:670px;width:1px;height:18px;background:#D9D9D9;"></div>
<div style="left:504px;top:689px;width:1px;height:18px;background:#D9D9D9;"></div>
<div style="left:2px;top:194px;width:569px;height:1px;background:#D9D9D9;"></div>
<div style="left:580px;top:194px;width:391px;height:1px;background:#D9D9D9;"></div>
<div style="left:981px;top:194px;width:367px;height:1px;background:#D9D9D9;"></div>
<div style="left:661px;top:176px;width:1px;height:18px;background:#D9D9D9;"></div>
<div style="left:742px;top:176px;width:1px;height:18px;background:#D9D9D9;"></div>
<div style="left:823px;top:176px;width:1px;height:18px;background:#D9D9D9;"></div>
<div style="left:897px;top:176px;width:1px;height:18px;background:#D9D9D9;"></div>
<div style="left:1062px;top:176px;width:1px;height:18px;background:#D9D9D9;"></div>
<div style="left:1143px;top:176px;width:1px;height:18px;background:#D9D9D9;"></div>
<div style="left:1224px;top:176px;width:1px;height:18px;background:#D9D9D9;"></div>
<div style="left:1286px;top:176px;width:1px;height:18px;background:#D9D9D9;"></div>
<div style="left:2px;top:213px;width:569px;height:1px;background:#D9D9D9;"></div>
<div style="left:580px;top:213px;width:391px;height:1px;background:#D9D9D9;"></div>
<div style="left:981px;top:213px;width:367px;height:1px;background:#D9D9D9;"></div>
<div style="left:661px;top:195px;width:1px;height:18px;background:#D9D9D9;"></div>
<div style="left:742px;top:195px;width:1px;height:18px;background:#D9D9D9;"></div>
<div style="left:823px;top:195px;width:1px;height:18px;background:#D9D9D9;"></div>
<div style="left:897px;top:195px;width:1px;height:18px;background:#D9D9D9;"></div>
<div style="left:1062px;top:195px;width:1px;height:18px;background:#D9D9D9;"></div>
<div style="left:1143px;top:195px;width:1px;height:18px;background:#D9D9D9;"></div>
<div style="left:1224px;top:195px;width:1px;height:18px;background:#D9D9D9;"></div>
<div style="left:1286px;top:195px;width:1px;height:18px;background:#D9D9D9;"></div>
<div style="left:2px;top:232px;width:569px;height:1px;background:#D9D9D9;"></div>
<div style="left:580px;top:232px;width:391px;height:1px;background:#D9D9D9;"></div>
<div style="left:981px;top:232px;width:367px;height:1px;background:#D9D9D9;"></div>
<div style="left:661px;top:214px;width:1px;height:18px;background:#D9D9D9;"></div>
<div style="left:742px;top:214px;width:1px;height:18px;background:#D9D9D9;"></div>
<div style="left:823px;top:214px;width:1px;height:18px;background:#D9D9D9;"></div>
<div style="left:897px;top:214px;width:1px;height:18px;background:#D9D9D9;"></div>
<div style="left:1062px;top:214px;width:1px;height:18px;background:#D9D9D9;"></div>
<div style="left:1143px;top:214px;width:1px;height:18px;background:#D9D9D9;"></div>
<div style="left:1224px;top:214px;width:1px;height:18px;background:#D9D9D9;"></div>
<div style="left:1286px;top:214px;width:1px;height:18px;background:#D9D9D9;"></div>
<div style="left:2px;top:251px;width:569px;height:1px;background:#D9D9D9;"></div>
<div style="left:580px;top:251px;width:391px;height:1px;background:#D9D9D9;"></div>
<div style="left:981px;top:251px;width:367px;height:1px;background:#D9D9D9;"></div>
<div style="left:661px;top:233px;width:1px;height:18px;background:#D9D9D9;"></div>
<div style="left:742px;top:233px;width:1px;height:18px;background:#D9D9D9;"></div>
<div style="left:823px;top:233px;width:1px;height:18px;background:#D9D9D9;"></div>
<div style="left:897px;top:233px;width:1px;height:18px;background:#D9D9D9;"></div>
<div style="left:1062px;top:233px;width:1px;height:18px;background:#D9D9D9;"></div>
<div style="left:1143px;top:233px;width:1px;height:18px;background:#D9D9D9;"></div>
<div style="left:1224px;top:233px;width:1px;height:18px;background:#D9D9D9;"></div>
<div style="left:1286px;top:233px;width:1px;height:18px;background:#D9D9D9;"></div>
<div style="left:2px;top:270px;width:569px;height:1px;background:#D9D9D9;"></div>
<div style="left:580px;top:270px;width:391px;height:1px;background:#D9D9D9;"></div>
<div style="left:981px;top:270px;width:367px;height:1px;background:#D9D9D9;"></div>
<div style="left:661px;top:252px;width:1px;height:18px;background:#D9D9D9;"></div>
<div style="left:742px;top:252px;width:1px;height:18px;background:#D9D9D9;"></div>
<div style="left:823px;top:252px;width:1px;height:18px;background:#D9D9D9;"></div>
<div style="left:897px;top:252px;width:1px;height:18px;background:#D9D9D9;"></div>
<div style="left:1062px;top:252px;width:1px;height:18px;background:#D9D9D9;"></div>
<div style="left:1143px;top:252px;width:1px;height:18px;background:#D9D9D9;"></div>
<div style="left:1224px;top:252px;width:1px;height:18px;background:#D9D9D9;"></div>
<div style="left:1286px;top:252px;width:1px;height:18px;background:#D9D9D9;"></div>
<div style="left:661px;top:271px;width:1px;height:18px;background:#D9D9D9;"></div>
<div style="left:742px;top:271px;width:1px;height:18px;background:#D9D9D9;"></div>
<div style="left:823px;top:271px;width:1px;height:18px;background:#D9D9D9;"></div>
<div style="left:897px;top:271px;width:1px;height:18px;background:#D9D9D9;"></div>
<div style="left:1062px;top:271px;width:1px;height:18px;background:#D9D9D9;"></div>
<div style="left:1143px;top:271px;width:1px;height:18px;background:#D9D9D9;"></div>
<div style="left:1224px;top:271px;width:1px;height:18px;background:#D9D9D9;"></div>
<div style="left:1286px;top:271px;width:1px;height:18px;background:#D9D9D9;"></div>
<div style="left:2px;top:327px;width:569px;height:1px;background:#D9D9D9;"></div>
<div style="left:580px;top:327px;width:391px;height:1px;background:#D9D9D9;"></div>
<div style="left:981px;top:327px;width:367px;height:1px;background:#D9D9D9;"></div>
<div style="left:661px;top:309px;width:1px;height:18px;background:#D9D9D9;"></div>
<div style="left:742px;top:309px;width:1px;height:18px;background:#D9D9D9;"></div>
<div style="left:823px;top:309px;width:1px;height:18px;background:#D9D9D9;"></div>
<div style="left:897px;top:309px;width:1px;height:18px;background:#D9D9D9;"></div>
<div style="left:1062px;top:309px;width:1px;height:18px;background:#D9D9D9;"></div>
<div style="left:1143px;top:309px;width:1px;height:18px;background:#D9D9D9;"></div>
<div style="left:1224px;top:309px;width:1px;height:18px;background:#D9D9D9;"></div>
<div style="left:1286px;top:309px;width:1px;height:18px;background:#D9D9D9;"></div>
<div style="left:2px;top:346px;width:569px;height:1px;background:#D9D9D9;"></div>
<div style="left:580px;top:346px;width:391px;height:1px;background:#D9D9D9;"></div>
<div style="left:981px;top:346px;width:367px;height:1px;background:#D9D9D9;"></div>
<div style="left:661px;top:328px;width:1px;height:18px;background:#D9D9D9;"></div>
<div style="left:742px;top:328px;width:1px;height:18px;background:#D9D9D9;"></div>
<div style="left:823px;top:328px;width:1px;height:18px;background:#D9D9D9;"></div>
<div style="left:897px;top:328px;width:1px;height:18px;background:#D9D9D9;"></div>
<div style="left:1062px;top:328px;width:1px;height:18px;background:#D9D9D9;"></div>
<div style="left:1143px;top:328px;width:1px;height:18px;background:#D9D9D9;"></div>
<div style="left:1224px;top:328px;width:1px;height:18px;background:#D9D9D9;"></div>
<div style="left:1286px;top:328px;width:1px;height:18px;background:#D9D9D9;"></div>
<div style="left:2px;top:365px;width:569px;height:1px;background:#D9D9D9;"></div>
<div style="left:580px;top:365px;width:391px;height:1px;background:#D9D9D9;"></div>
<div style="left:981px;top:365px;width:367px;height:1px;background:#D9D9D9;"></div>
<div style="left:661px;top:347px;width:1px;height:18px;background:#D9D9D9;"></div>
<div style="left:742px;top:347px;width:1px;height:18px;background:#D9D9D9;"></div>
<div style="left:823px;top:347px;width:1px;height:18px;background:#D9D9D9;"></div>
<div style="left:897px;top:347px;width:1px;height:18px;background:#D9D9D9;"></div>
<div style="left:1062px;top:347px;width:1px;height:18px;background:#D9D9D9;"></div>
<div style="left:1143px;top:347px;width:1px;height:18px;background:#D9D9D9;"></div>
<div style="left:1224px;top:347px;width:1px;height:18px;background:#D9D9D9;"></div>
<div style="left:1286px;top:347px;width:1px;height:18px;background:#D9D9D9;"></div>
<div style="left:2px;top:384px;width:569px;height:1px;background:#D9D9D9;"></div>
<div style="left:580px;top:384px;width:391px;height:1px;background:#D9D9D9;"></div>
<div style="left:981px;top:384px;width:367px;height:1px;background:#D9D9D9;"></div>
<div style="left:661px;top:366px;width:1px;height:18px;background:#D9D9D9;"></div>
<div style="left:742px;top:366px;width:1px;height:18px;background:#D9D9D9;"></div>
<div style="left:823px;top:366px;width:1px;height:18px;background:#D9D9D9;"></div>
<div style="left:897px;top:366px;width:1px;height:18px;background:#D9D9D9;"></div>
<div style="left:1062px;top:366px;width:1px;height:18px;background:#D9D9D9;"></div>
<div style="left:1143px;top:366px;width:1px;height:18px;background:#D9D9D9;"></div>
<div style="left:1224px;top:366px;width:1px;height:18px;background:#D9D9D9;"></div>
<div style="left:1286px;top:366px;width:1px;height:18px;background:#D9D9D9;"></div>
<div style="left:661px;top:385px;width:1px;height:18px;background:#D9D9D9;"></div>
<div style="left:742px;top:385px;width:1px;height:18px;background:#D9D9D9;"></div>
<div style="left:823px;top:385px;width:1px;height:18px;background:#D9D9D9;"></div>
<div style="left:897px;top:385px;width:1px;height:18px;background:#D9D9D9;"></div>
<div style="left:1062px;top:385px;width:1px;height:18px;background:#D9D9D9;"></div>
<div style="left:1143px;top:385px;width:1px;height:18px;background:#D9D9D9;"></div>
<div style="left:1224px;top:385px;width:1px;height:18px;background:#D9D9D9;"></div>
<div style="left:1286px;top:385px;width:1px;height:18px;background:#D9D9D9;"></div>
<div style="left:2px;top:441px;width:569px;height:1px;background:#D9D9D9;"></div>
<div style="left:580px;top:441px;width:391px;height:1px;background:#D9D9D9;"></div>
<div style="left:981px;top:441px;width:367px;height:1px;background:#D9D9D9;"></div>
<div style="left:661px;top:423px;width:1px;height:18px;background:#D9D9D9;"></div>
<div style="left:742px;top:423px;width:1px;height:18px;background:#D9D9D9;"></div>
<div style="left:823px;top:423px;width:1px;height:18px;background:#D9D9D9;"></div>
<div style="left:897px;top:423px;width:1px;height:18px;background:#D9D9D9;"></div>
<div style="left:1062px;top:423px;width:1px;height:18px;background:#D9D9D9;"></div>
<div style="left:1143px;top:423px;width:1px;height:18px;background:#D9D9D9;"></div>
<div style="left:1224px;top:423px;width:1px;height:18px;background:#D9D9D9;"></div>
<div style="left:1286px;top:423px;width:1px;height:18px;background:#D9D9D9;"></div>
<div style="left:2px;top:460px;width:569px;height:1px;background:#D9D9D9;"></div>
<div style="left:580px;top:460px;width:391px;height:1px;background:#D9D9D9;"></div>
<div style="left:981px;top:460px;width:367px;height:1px;background:#D9D9D9;"></div>
<div style="left:661px;top:442px;width:1px;height:18px;background:#D9D9D9;"></div>
<div style="left:742px;top:442px;width:1px;height:18px;background:#D9D9D9;"></div>
<div style="left:823px;top:442px;width:1px;height:18px;background:#D9D9D9;"></div>
<div style="left:897px;top:442px;width:1px;height:18px;background:#D9D9D9;"></div>
<div style="left:1062px;top:442px;width:1px;height:18px;background:#D9D9D9;"></div>
<div style="left:1143px;top:442px;width:1px;height:18px;background:#D9D9D9;"></div>
<div style="left:1224px;top:442px;width:1px;height:18px;background:#D9D9D9;"></div>
<div style="left:1286px;top:442px;width:1px;height:18px;background:#D9D9D9;"></div>
<div style="left:2px;top:479px;width:569px;height:1px;background:#D9D9D9;"></div>
<div style="left:580px;top:479px;width:391px;height:1px;background:#D9D9D9;"></div>
<div style="left:981px;top:479px;width:367px;height:1px;background:#D9D9D9;"></div>
<div style="left:661px;top:461px;width:1px;height:18px;background:#D9D9D9;"></div>
<div style="left:742px;top:461px;width:1px;height:18px;background:#D9D9D9;"></div>
<div style="left:823px;top:461px;width:1px;height:18px;background:#D9D9D9;"></div>
<div style="left:897px;top:461px;width:1px;height:18px;background:#D9D9D9;"></div>
<div style="left:1062px;top:461px;width:1px;height:18px;background:#D9D9D9;"></div>
<div style="left:1143px;top:461px;width:1px;height:18px;background:#D9D9D9;"></div>
<div style="left:1224px;top:461px;width:1px;height:18px;background:#D9D9D9;"></div>
<div style="left:1286px;top:461px;width:1px;height:18px;background:#D9D9D9;"></div>
<div style="left:2px;top:498px;width:569px;height:1px;background:#D9D9D9;"></div>
<div style="left:580px;top:498px;width:391px;height:1px;background:#D9D9D9;"></div>
<div style="left:981px;top:498px;width:367px;height:1px;background:#D9D9D9;"></div>
<div style="left:661px;top:480px;width:1px;height:18px;background:#D9D9D9;"></div>
<div style="left:742px;top:480px;width:1px;height:18px;background:#D9D9D9;"></div>
<div style="left:823px;top:480px;width:1px;height:18px;background:#D9D9D9;"></div>
<div style="left:897px;top:480px;width:1px;height:18px;background:#D9D9D9;"></div>
<div style="left:1062px;top:480px;width:1px;height:18px;background:#D9D9D9;"></div>
<div style="left:1143px;top:480px;width:1px;height:18px;background:#D9D9D9;"></div>
<div style="left:1224px;top:480px;width:1px;height:18px;background:#D9D9D9;"></div>
<div style="left:1286px;top:480px;width:1px;height:18px;background:#D9D9D9;"></div>
<div style="left:661px;top:499px;width:1px;height:18px;background:#D9D9D9;"></div>
<div style="left:742px;top:499px;width:1px;height:18px;background:#D9D9D9;"></div>
<div style="left:823px;top:499px;width:1px;height:18px;background:#D9D9D9;"></div>
<div style="left:897px;top:499px;width:1px;height:18px;background:#D9D9D9;"></div>
<div style="left:1062px;top:499px;width:1px;height:18px;background:#D9D9D9;"></div>
<div style="left:1143px;top:499px;width:1px;height:18px;background:#D9D9D9;"></div>
<div style="left:1224px;top:499px;width:1px;height:18px;background:#D9D9D9;"></div>
<div style="left:1286px;top:499px;width:1px;height:18px;background:#D9D9D9;"></div>
<div style="left:2px;top:555px;width:569px;height:1px;background:#D9D9D9;"></div>
<div style="left:580px;top:555px;width:391px;height:1px;background:#D9D9D9;"></div>
<div style="left:981px;top:555px;width:367px;height:1px;background:#D9D9D9;"></div>
<div style="left:661px;top:537px;width:1px;height:18px;background:#D9D9D9;"></div>
<div style="left:742px;top:537px;width:1px;height:18px;background:#D9D9D9;"></div>
<div style="left:823px;top:537px;width:1px;height:18px;background:#D9D9D9;"></div>
<div style="left:897px;top:537px;width:1px;height:18px;background:#D9D9D9;"></div>
<div style="left:1062px;top:537px;width:1px;height:18px;background:#D9D9D9;"></div>
<div style="left:1143px;top:537px;width:1px;height:18px;background:#D9D9D9;"></div>
<div style="left:1224px;top:537px;width:1px;height:18px;background:#D9D9D9;"></div>
<div style="left:1286px;top:537px;width:1px;height:18px;background:#D9D9D9;"></div>
<div style="left:2px;top:574px;width:569px;height:1px;background:#D9D9D9;"></div>
<div style="left:580px;top:574px;width:391px;height:1px;background:#D9D9D9;"></div>
<div style="left:981px;top:574px;width:367px;height:1px;background:#D9D9D9;"></div>
<div style="left:661px;top:556px;width:1px;height:18px;background:#D9D9D9;"></div>
<div style="left:742px;top:556px;width:1px;height:18px;background:#D9D9D9;"></div>
<div style="left:823px;top:556px;width:1px;height:18px;background:#D9D9D9;"></div>
<div style="left:897px;top:556px;width:1px;height:18px;background:#D9D9D9;"></div>
<div style="left:1062px;top:556px;width:1px;height:18px;background:#D9D9D9;"></div>
<div style="left:1143px;top:556px;width:1px;height:18px;background:#D9D9D9;"></div>
<div style="left:1224px;top:556px;width:1px;height:18px;background:#D9D9D9;"></div>
<div style="left:1286px;top:556px;width:1px;height:18px;background:#D9D9D9;"></div>
<div style="left:2px;top:593px;width:569px;height:1px;background:#D9D9D9;"></div>
<div style="left:580px;top:593px;width:391px;height:1px;background:#D9D9D9;"></div>
<div style="left:981px;top:593px;width:367px;height:1px;background:#D9D9D9;"></div>
<div style="left:661px;top:575px;width:1px;height:18px;background:#D9D9D9;"></div>
<div style="left:742px;top:575px;width:1px;height:18px;background:#D9D9D9;"></div>
<div style="left:823px;top:575px;width:1px;height:18px;background:#D9D9D9;"></div>
<div style="left:897px;top:575px;width:1px;height:18px;background:#D9D9D9;"></div>
<div style="left:1062px;top:575px;width:1px;height:18px;background:#D9D9D9;"></div>
<div style="left:1143px;top:575px;width:1px;height:18px;background:#D9D9D9;"></div>
<div style="left:1224px;top:575px;width:1px;height:18px;background:#D9D9D9;"></div>
<div style="left:1286px;top:575px;width:1px;height:18px;background:#D9D9D9;"></div>
<div style="left:2px;top:612px;width:569px;height:1px;background:#D9D9D9;"></div>
<div style="left:580px;top:612px;width:391px;height:1px;background:#D9D9D9;"></div>
<div style="left:981px;top:612px;width:367px;height:1px;background:#D9D9D9;"></div>
<div style="left:661px;top:594px;width:1px;height:18px;background:#D9D9D9;"></div>
<div style="left:742px;top:594px;width:1px;height:18px;background:#D9D9D9;"></div>
<div style="left:823px;top:594px;width:1px;height:18px;background:#D9D9D9;"></div>
<div style="left:897px;top:594px;width:1px;height:18px;background:#D9D9D9;"></div>
<div style="left:1062px;top:594px;width:1px;height:18px;background:#D9D9D9;"></div>
<div style="left:1143px;top:594px;width:1px;height:18px;background:#D9D9D9;"></div>
<div style="left:1224px;top:594px;width:1px;height:18px;background:#D9D9D9;"></div>
<div style="left:1286px;top:594px;width:1px;height:18px;background:#D9D9D9;"></div>
<div style="left:2px;top:631px;width:569px;height:1px;background:#D9D9D9;"></div>
<div style="left:580px;top:631px;width:391px;height:1px;background:#D9D9D9;"></div>
<div style="left:981px;top:631px;width:367px;height:1px;background:#D9D9D9;"></div>
<div style="left:661px;top:613px;width:1px;height:18px;background:#D9D9D9;"></div>
<div style="left:742px;top:613px;width:1px;height:18px;background:#D9D9D9;"></div>
<div style="left:823px;top:613px;width:1px;height:18px;background:#D9D9D9;"></div>
<div style="left:897px;top:613px;width:1px;height:18px;background:#D9D9D9;"></div>
<div style="left:1062px;top:613px;width:1px;height:18px;background:#D9D9D9;"></div>
<div style="left:1143px;top:613px;width:1px;height:18px;background:#D9D9D9;"></div>
<div style="left:1224px;top:613px;width:1px;height:18px;background:#D9D9D9;"></div>
<div style="left:1286px;top:613px;width:1px;height:18px;background:#D9D9D9;"></div>
<div style="left:2px;top:650px;width:569px;height:1px;background:#D9D9D9;"></div>
<div style="left:580px;top:650px;width:391px;height:1px;background:#D9D9D9;"></div>
<div style="left:981px;top:650px;width:367px;height:1px;background:#D9D9D9;"></div>
<div style="left:661px;top:632px;width:1px;height:18px;background:#D9D9D9;"></div>
<div style="left:742px;top:632px;width:1px;height:18px;background:#D9D9D9;"></div>
<div style="left:823px;top:632px;width:1px;height:18px;background:#D9D9D9;"></div>
<div style="left:897px;top:632px;width:1px;height:18px;background:#D9D9D9;"></div>
<div style="left:1062px;top:632px;width:1px;height:18px;background:#D9D9D9;"></div>
<div style="left:1143px;top:632px;width:1px;height:18px;background:#D9D9D9;"></div>
<div style="left:1224px;top:632px;width:1px;height:18px;background:#D9D9D9;"></div>
<div style="left:1286px;top:632px;width:1px;height:18px;background:#D9D9D9;"></div>
<div style="left:2px;top:669px;width:569px;height:1px;background:#D9D9D9;"></div>
<div style="left:580px;top:669px;width:391px;height:1px;background:#D9D9D9;"></div>
<div style="left:981px;top:669px;width:367px;height:1px;background:#D9D9D9;"></div>
<div style="left:661px;top:651px;width:1px;height:18px;background:#D9D9D9;"></div>
<div style="left:742px;top:651px;width:1px;height:18px;background:#D9D9D9;"></div>
<div style="left:823px;top:651px;width:1px;height:18px;background:#D9D9D9;"></div>
<div style="left:897px;top:651px;width:1px;height:18px;background:#D9D9D9;"></div>
<div style="left:1062px;top:651px;width:1px;height:18px;background:#D9D9D9;"></div>
<div style="left:1143px;top:651px;width:1px;height:18px;background:#D9D9D9;"></div>
<div style="left:1224px;top:651px;width:1px;height:18px;background:#D9D9D9;"></div>
<div style="left:1286px;top:651px;width:1px;height:18px;background:#D9D9D9;"></div>
<div style="left:2px;top:688px;width:569px;height:1px;background:#D9D9D9;"></div>
<div style="left:580px;top:688px;width:391px;height:1px;background:#D9D9D9;"></div>
<div style="left:981px;top:688px;width:367px;height:1px;background:#D9D9D9;"></div>
<div style="left:661px;top:670px;width:1px;height:18px;background:#D9D9D9;"></div>
<div style="left:742px;top:670px;width:1px;height:18px;background:#D9D9D9;"></div>
<div style="left:823px;top:670px;width:1px;height:18px;background:#D9D9D9;"></div>
<div style="left:897px;top:670px;width:1px;height:18px;background:#D9D9D9;"></div>
<div style="left:1062px;top:670px;width:1px;height:18px;background:#D9D9D9;"></div>
<div style="left:1143px;top:670px;width:1px;height:18px;background:#D9D9D9;"></div>
<div style="left:1224px;top:670px;width:1px;height:18px;background:#D9D9D9;"></div>
<div style="left:1286px;top:670px;width:1px;height:18px;background:#D9D9D9;"></div>
<div style="left:661px;top:689px;width:1px;height:18px;background:#D9D9D9;"></div>
<div style="left:742px;top:689px;width:1px;height:18px;background:#D9D9D9;"></div>
<div style="left:823px;top:689px;width:1px;height:18px;background:#D9D9D9;"></div>
<div style="left:897px;top:689px;width:1px;height:18px;background:#D9D9D9;"></div>
<div style="left:1062px;top:689px;width:1px;height:18px;background:#D9D9D9;"></div>
<div style="left:1143px;top:689px;width:1px;height:18px;background:#D9D9D9;"></div>
<div style="left:1224px;top:689px;width:1px;height:18px;background:#D9D9D9;"></div>
<div style="left:1286px;top:689px;width:1px;height:18px;background:#D9D9D9;"></div>
<div style="left:2px;top:121px;width:569px;height:1px;background:#737373;"></div>
<div style="left:2px;top:121px;width:1px;height:579px;background:#737373;"></div>
<div style="left:570px;top:121px;width:1px;height:579px;background:#737373;"></div>
<div style="left:580px;top:84px;width:392px;height:38px;background:#000;"></div>
<div style="left:581px;top:85px;width:390px;height:36px;background:#FFC000;"></div>
<div style="left:580px;top:122px;width:392px;height:34px;background:#D6DCE4;"></div>
<div style="left:580px;top:122px;width:1px;height:34px;background:#737373;"></div>
<div style="left:971px;top:122px;width:1px;height:34px;background:#737373;"></div>
<div class="t " style="left:576.0px;top:95px;width:400px;text-align:center;font-size:16.5px;line-height:16.5px;font-weight:700;font-style:normal;color:#000;letter-spacing:0.2px;">Monthly</div>
<div class="t " style="left:421.0px;top:125px;width:400px;text-align:center;font-size:12.5px;line-height:12.5px;font-weight:700;font-style:normal;color:#000;">Previous</div>
<div class="t " style="left:421.0px;top:144px;width:400px;text-align:center;font-size:12.5px;line-height:12.5px;font-weight:700;font-style:normal;color:#000;">Year</div>
<div class="t " style="left:502.0px;top:134px;width:400px;text-align:center;font-size:12.5px;line-height:12.5px;font-weight:700;font-style:normal;color:#000;">Target</div>
<div class="t " style="left:583.0px;top:134px;width:400px;text-align:center;font-size:12.5px;line-height:12.5px;font-weight:700;font-style:normal;color:#000;">Actual</div>
<div class="t " style="left:660.5px;top:125px;width:400px;text-align:center;font-size:12.5px;line-height:12.5px;font-weight:700;font-style:normal;color:#000;">Act/PY</div>
<div class="t " style="left:660.5px;top:144px;width:400px;text-align:center;font-size:12.5px;line-height:12.5px;font-weight:700;font-style:normal;color:#000;">%</div>
<div class="t " style="left:734.5px;top:125px;width:400px;text-align:center;font-size:12.5px;line-height:12.5px;font-weight:700;font-style:normal;color:#000;">Act/Trgt</div>
<div class="t " style="left:734.5px;top:144px;width:400px;text-align:center;font-size:12.5px;line-height:12.5px;font-weight:700;font-style:normal;color:#000;">%</div>
<div style="left:981px;top:84px;width:368px;height:38px;background:#000;"></div>
<div style="left:982px;top:85px;width:366px;height:36px;background:#FFC000;"></div>
<div style="left:981px;top:122px;width:368px;height:34px;background:#D6DCE4;"></div>
<div style="left:981px;top:122px;width:1px;height:34px;background:#737373;"></div>
<div style="left:1348px;top:122px;width:1px;height:34px;background:#737373;"></div>
<div class="t " style="left:965.0px;top:95px;width:400px;text-align:center;font-size:16.5px;line-height:16.5px;font-weight:700;font-style:normal;color:#000;letter-spacing:0.2px;">Cumulative</div>
<div class="t " style="left:822.0px;top:125px;width:400px;text-align:center;font-size:12.5px;line-height:12.5px;font-weight:700;font-style:normal;color:#000;">Previous</div>
<div class="t " style="left:822.0px;top:144px;width:400px;text-align:center;font-size:12.5px;line-height:12.5px;font-weight:700;font-style:normal;color:#000;">Year</div>
<div class="t " style="left:903.0px;top:134px;width:400px;text-align:center;font-size:12.5px;line-height:12.5px;font-weight:700;font-style:normal;color:#000;">Target</div>
<div class="t " style="left:984.0px;top:134px;width:400px;text-align:center;font-size:12.5px;line-height:12.5px;font-weight:700;font-style:normal;color:#000;">Actual</div>
<div class="t " style="left:1055.5px;top:125px;width:400px;text-align:center;font-size:12.5px;line-height:12.5px;font-weight:700;font-style:normal;color:#000;">Act/PY</div>
<div class="t " style="left:1055.5px;top:144px;width:400px;text-align:center;font-size:12.5px;line-height:12.5px;font-weight:700;font-style:normal;color:#000;">%</div>
<div class="t " style="left:1117.5px;top:125px;width:400px;text-align:center;font-size:12.5px;line-height:12.5px;font-weight:700;font-style:normal;color:#000;">Act/Trgt</div>
<div class="t " style="left:1117.5px;top:144px;width:400px;text-align:center;font-size:12.5px;line-height:12.5px;font-weight:700;font-style:normal;color:#000;">%</div>
<div style="left:580px;top:175px;width:392px;height:1px;background:#000;"></div>
<div style="left:580px;top:289px;width:392px;height:1px;background:#000;"></div>
<div style="left:580px;top:175px;width:1px;height:115px;background:#000;"></div>
<div style="left:971px;top:175px;width:1px;height:115px;background:#000;"></div>
<div style="left:580px;top:308px;width:392px;height:1px;background:#000;"></div>
<div style="left:580px;top:403px;width:392px;height:1px;background:#000;"></div>
<div style="left:580px;top:308px;width:1px;height:96px;background:#000;"></div>
<div style="left:971px;top:308px;width:1px;height:96px;background:#000;"></div>
<div style="left:580px;top:422px;width:392px;height:1px;background:#000;"></div>
<div style="left:580px;top:517px;width:392px;height:1px;background:#000;"></div>
<div style="left:580px;top:422px;width:1px;height:96px;background:#000;"></div>
<div style="left:971px;top:422px;width:1px;height:96px;background:#000;"></div>
<div style="left:580px;top:536px;width:392px;height:1px;background:#000;"></div>
<div style="left:580px;top:707px;width:392px;height:1px;background:#000;"></div>
<div style="left:580px;top:536px;width:1px;height:172px;background:#000;"></div>
<div style="left:971px;top:536px;width:1px;height:172px;background:#000;"></div>
<div style="left:580px;top:290px;width:1px;height:18px;background:#737373;"></div>
<div style="left:971px;top:290px;width:1px;height:18px;background:#737373;"></div>
<div style="left:580px;top:404px;width:1px;height:18px;background:#737373;"></div>
<div style="left:971px;top:404px;width:1px;height:18px;background:#737373;"></div>
<div style="left:580px;top:518px;width:1px;height:18px;background:#737373;"></div>
<div style="left:971px;top:518px;width:1px;height:18px;background:#737373;"></div>
<div style="left:981px;top:175px;width:368px;height:1px;background:#000;"></div>
<div style="left:981px;top:289px;width:368px;height:1px;background:#000;"></div>
<div style="left:981px;top:175px;width:1px;height:115px;background:#000;"></div>
<div style="left:1348px;top:175px;width:1px;height:115px;background:#000;"></div>
<div style="left:981px;top:308px;width:368px;height:1px;background:#000;"></div>
<div style="left:981px;top:403px;width:368px;height:1px;background:#000;"></div>
<div style="left:981px;top:308px;width:1px;height:96px;background:#000;"></div>
<div style="left:1348px;top:308px;width:1px;height:96px;background:#000;"></div>
<div style="left:981px;top:422px;width:368px;height:1px;background:#000;"></div>
<div style="left:981px;top:517px;width:368px;height:1px;background:#000;"></div>
<div style="left:981px;top:422px;width:1px;height:96px;background:#000;"></div>
<div style="left:1348px;top:422px;width:1px;height:96px;background:#000;"></div>
<div style="left:981px;top:536px;width:368px;height:1px;background:#000;"></div>
<div style="left:981px;top:707px;width:368px;height:1px;background:#000;"></div>
<div style="left:981px;top:536px;width:1px;height:172px;background:#000;"></div>
<div style="left:1348px;top:536px;width:1px;height:172px;background:#000;"></div>
<div style="left:981px;top:290px;width:1px;height:18px;background:#737373;"></div>
<div style="left:1348px;top:290px;width:1px;height:18px;background:#737373;"></div>
<div style="left:981px;top:404px;width:1px;height:18px;background:#737373;"></div>
<div style="left:1348px;top:404px;width:1px;height:18px;background:#737373;"></div>
<div style="left:981px;top:518px;width:1px;height:18px;background:#737373;"></div>
<div style="left:1348px;top:518px;width:1px;height:18px;background:#737373;"></div>
<div style="left:0px;top:156px;width:1365px;height:1px;background:#8C8C8C;"></div>
<svg style="left:1356px;top:314px" width="10" height="18" viewBox="0 0 10 18"><path d="M2 9 L10 1 L10 17 Z" fill="#FFC000"/></svg>
</body></html>
